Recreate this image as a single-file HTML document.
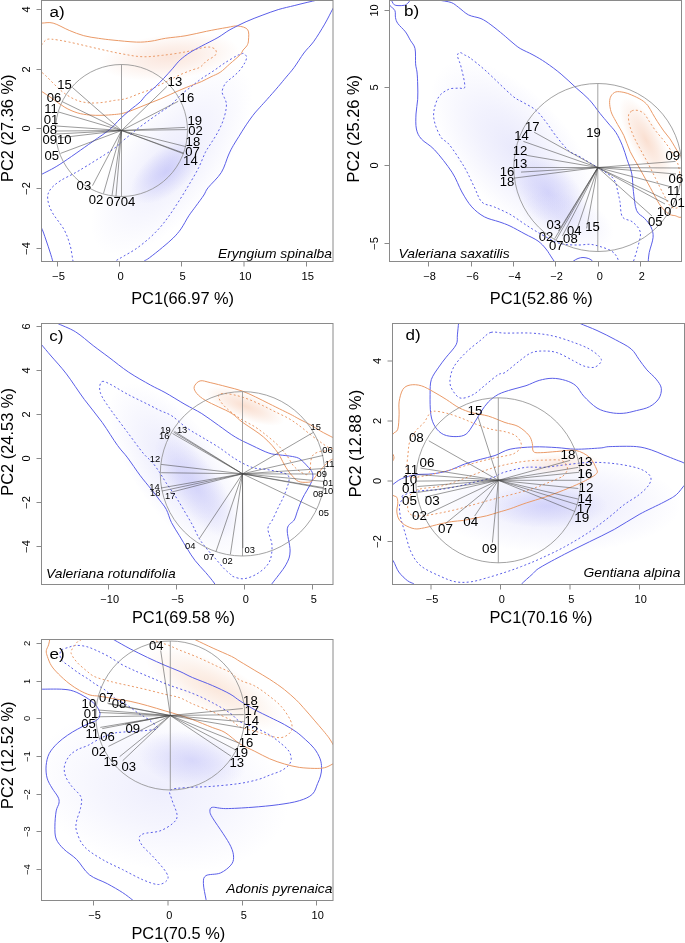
<!DOCTYPE html>
<html><head><meta charset="utf-8"><style>
html,body{margin:0;padding:0;background:#fff;}
svg{display:block;will-change:transform;font-family:"Liberation Sans",sans-serif;}
</style></head><body>
<svg width="685" height="943" viewBox="0 0 685 943">
<defs>
<clipPath id="ca"><rect x="41.5" y="0.5" width="291.5" height="261.0"/></clipPath>
<radialGradient id="g1"><stop offset="0" stop-color="#a8a8f4" stop-opacity="0.22"/><stop offset="0.45" stop-color="#a8a8f4" stop-opacity="0.132"/><stop offset="1" stop-color="#a8a8f4" stop-opacity="0"/></radialGradient>
<radialGradient id="g2"><stop offset="0" stop-color="#9a9af4" stop-opacity="0.38"/><stop offset="0.45" stop-color="#9a9af4" stop-opacity="0.228"/><stop offset="1" stop-color="#9a9af4" stop-opacity="0"/></radialGradient>
<radialGradient id="g3"><stop offset="0" stop-color="#f4c0a8" stop-opacity="0.4"/><stop offset="0.45" stop-color="#f4c0a8" stop-opacity="0.240"/><stop offset="1" stop-color="#f4c0a8" stop-opacity="0"/></radialGradient>
<clipPath id="cb"><rect x="389.5" y="0.5" width="292.0" height="261.0"/></clipPath>
<radialGradient id="g4"><stop offset="0" stop-color="#a8a8f4" stop-opacity="0.25"/><stop offset="0.45" stop-color="#a8a8f4" stop-opacity="0.150"/><stop offset="1" stop-color="#a8a8f4" stop-opacity="0"/></radialGradient>
<radialGradient id="g5"><stop offset="0" stop-color="#9a9af4" stop-opacity="0.35"/><stop offset="0.45" stop-color="#9a9af4" stop-opacity="0.210"/><stop offset="1" stop-color="#9a9af4" stop-opacity="0"/></radialGradient>
<radialGradient id="g6"><stop offset="0" stop-color="#b0b0f6" stop-opacity="0.22"/><stop offset="0.45" stop-color="#b0b0f6" stop-opacity="0.132"/><stop offset="1" stop-color="#b0b0f6" stop-opacity="0"/></radialGradient>
<radialGradient id="g7"><stop offset="0" stop-color="#f4b898" stop-opacity="0.45"/><stop offset="0.45" stop-color="#f4b898" stop-opacity="0.270"/><stop offset="1" stop-color="#f4b898" stop-opacity="0"/></radialGradient>
<clipPath id="cc"><rect x="41.5" y="323.5" width="291.5" height="261.0"/></clipPath>
<radialGradient id="g8"><stop offset="0" stop-color="#a8a8f4" stop-opacity="0.26"/><stop offset="0.45" stop-color="#a8a8f4" stop-opacity="0.156"/><stop offset="1" stop-color="#a8a8f4" stop-opacity="0"/></radialGradient>
<radialGradient id="g9"><stop offset="0" stop-color="#9a9af4" stop-opacity="0.3"/><stop offset="0.45" stop-color="#9a9af4" stop-opacity="0.180"/><stop offset="1" stop-color="#9a9af4" stop-opacity="0"/></radialGradient>
<radialGradient id="g10"><stop offset="0" stop-color="#f4b898" stop-opacity="0.45"/><stop offset="0.45" stop-color="#f4b898" stop-opacity="0.270"/><stop offset="1" stop-color="#f4b898" stop-opacity="0"/></radialGradient>
<clipPath id="cd"><rect x="392.5" y="323.5" width="292.0" height="261.0"/></clipPath>
<radialGradient id="g11"><stop offset="0" stop-color="#a8a8f4" stop-opacity="0.25"/><stop offset="0.45" stop-color="#a8a8f4" stop-opacity="0.150"/><stop offset="1" stop-color="#a8a8f4" stop-opacity="0"/></radialGradient>
<radialGradient id="g12"><stop offset="0" stop-color="#9a9af4" stop-opacity="0.3"/><stop offset="0.45" stop-color="#9a9af4" stop-opacity="0.180"/><stop offset="1" stop-color="#9a9af4" stop-opacity="0"/></radialGradient>
<radialGradient id="g13"><stop offset="0" stop-color="#f4b898" stop-opacity="0.28"/><stop offset="0.45" stop-color="#f4b898" stop-opacity="0.168"/><stop offset="1" stop-color="#f4b898" stop-opacity="0"/></radialGradient>
<clipPath id="ce"><rect x="41.5" y="639.5" width="291.5" height="261.0"/></clipPath>
<radialGradient id="g14"><stop offset="0" stop-color="#b4b4f6" stop-opacity="0.22"/><stop offset="0.45" stop-color="#b4b4f6" stop-opacity="0.132"/><stop offset="1" stop-color="#b4b4f6" stop-opacity="0"/></radialGradient>
<radialGradient id="g15"><stop offset="0" stop-color="#9a9af4" stop-opacity="0.33"/><stop offset="0.45" stop-color="#9a9af4" stop-opacity="0.198"/><stop offset="1" stop-color="#9a9af4" stop-opacity="0"/></radialGradient>
<radialGradient id="g16"><stop offset="0" stop-color="#f4c0a0" stop-opacity="0.38"/><stop offset="0.45" stop-color="#f4c0a0" stop-opacity="0.228"/><stop offset="1" stop-color="#f4c0a0" stop-opacity="0"/></radialGradient>
</defs>
<rect width="685" height="943" fill="#fff"/>
<g clip-path="url(#ca)">
<ellipse cx="172" cy="160" rx="115" ry="50" transform="rotate(-52 172 160)" fill="url(#g1)"/>
<ellipse cx="166" cy="172" rx="42" ry="22" transform="rotate(-40 166 172)" fill="url(#g2)"/>
<ellipse cx="170" cy="57" rx="70" ry="23" transform="rotate(-6 170 57)" fill="url(#g3)"/>
<path d="M30.0,23.0 C31.9,23.0 37.6,23.1 41.5,23.1 C45.4,23.1 48.5,21.9 53.1,23.1 C57.7,24.3 64.1,28.3 69.2,30.4 C74.3,32.5 78.9,34.4 83.8,35.7 C88.7,37.0 93.5,37.6 98.4,38.3 C103.3,39.0 106.7,39.5 113.0,40.1 C119.3,40.7 130.1,41.9 136.4,42.1 C142.7,42.3 146.2,41.8 151.0,41.2 C155.8,40.6 159.7,39.2 165.5,38.3 C171.3,37.4 179.2,36.9 186.0,35.7 C192.8,34.5 199.6,32.7 206.4,31.3 C213.2,29.9 221.6,28.4 226.9,27.5 C232.2,26.6 234.5,25.6 238.0,26.0 C241.5,26.4 245.9,27.3 247.7,29.7 C249.4,32.0 248.6,37.4 248.5,40.1 C248.4,42.8 247.8,44.1 246.9,45.8 C246.0,47.4 244.2,48.5 243.1,50.0 C242.0,51.5 242.4,52.4 240.2,54.7 C238.0,57.0 233.0,61.1 229.7,64.0 C226.4,66.9 223.4,70.1 220.3,72.2 C217.2,74.3 214.1,75.2 211.0,76.8 C207.9,78.3 205.0,80.0 201.7,81.5 C198.4,83.0 194.7,84.2 191.3,85.5 C187.9,86.8 184.5,88.1 181.1,89.6 C177.7,91.0 174.3,92.7 170.9,94.2 C167.5,95.7 164.1,97.3 160.7,98.8 C157.3,100.2 153.8,101.5 150.4,102.9 C147.0,104.3 143.6,105.6 140.2,107.0 C136.8,108.4 133.0,110.0 130.0,111.1 C127.0,112.2 124.6,112.9 122.0,113.5 C119.4,114.1 117.7,114.2 114.4,114.5 C111.1,114.8 106.1,115.2 102.0,115.3 C97.9,115.4 93.7,115.4 89.6,115.0 C85.5,114.6 81.3,114.1 77.2,112.8 C73.1,111.5 68.9,109.7 64.8,107.3 C60.7,104.9 56.3,101.3 52.4,98.6 C48.5,95.9 44.9,93.5 41.2,91.1 C37.5,88.7 31.9,85.2 30.0,84.0" fill="none" stroke="#ea9a68" stroke-width="1.0"/>
<path d="M36.0,52.0 C36.9,50.8 39.9,47.0 41.5,45.0 C43.1,43.0 44.1,41.1 45.8,40.1 C47.5,39.1 47.8,38.9 51.7,39.2 C55.6,39.5 61.4,40.5 69.2,42.1 C77.0,43.7 89.6,46.8 98.4,48.8 C107.2,50.8 114.5,52.5 121.8,53.8 C129.1,55.1 135.4,56.5 142.2,56.7 C149.0,57.0 155.3,56.1 162.6,55.3 C169.9,54.5 178.7,53.2 186.0,51.8 C193.3,50.4 201.5,47.5 206.4,47.1 C211.3,46.7 213.7,48.0 215.2,49.4 C216.7,50.8 216.7,53.3 215.2,55.3 C213.7,57.2 208.9,59.1 206.4,61.1 C203.9,63.1 202.5,65.7 200.0,67.2 C197.5,68.7 194.5,69.0 191.3,70.2 C188.2,71.4 184.5,72.8 181.1,74.3 C177.7,75.8 174.3,77.7 170.9,79.4 C167.5,81.1 164.1,82.8 160.7,84.5 C157.3,86.2 153.8,88.1 150.4,89.6 C147.0,91.0 143.6,91.9 140.2,93.2 C136.8,94.5 133.0,96.2 130.0,97.3 C127.0,98.3 124.6,99.0 122.0,99.5 C119.4,100.0 117.7,99.9 114.4,100.4 C111.1,100.9 106.1,102.1 102.0,102.5 C97.9,102.9 93.7,103.2 89.6,102.9 C85.5,102.6 81.3,102.0 77.2,100.4 C73.1,98.9 68.5,96.2 64.8,93.6 C61.1,91.0 58.2,88.0 54.9,84.9 C51.6,81.8 48.1,77.8 45.0,75.0 C41.9,72.2 37.5,69.2 36.0,68.0" fill="none" stroke="#ea9a68" stroke-width="1.0" stroke-dasharray="2 2.3"/>
<path d="M30.0,181.0 C31.8,179.9 36.0,177.5 41.0,174.7 C46.0,171.9 51.4,169.8 59.9,164.3 C68.4,158.9 83.8,147.8 92.1,142.0 C100.4,136.2 104.8,133.4 109.5,129.6 C114.2,125.8 116.6,122.2 120.0,119.0 C123.4,115.8 126.6,112.9 130.0,110.1 C133.4,107.2 137.5,104.5 140.2,101.9 C142.9,99.3 143.8,97.2 146.4,94.7 C149.0,92.2 152.6,89.3 155.5,86.6 C158.4,83.9 160.8,81.5 163.7,78.4 C166.6,75.3 170.2,71.3 172.9,68.2 C175.6,65.1 177.2,62.6 180.1,60.0 C182.9,57.4 186.4,54.8 190.0,52.5 C193.6,50.2 197.0,48.5 201.7,46.0 C206.4,43.5 213.3,40.2 218.0,37.5 C222.7,34.8 225.3,32.3 230.0,29.7 C234.7,27.1 240.8,24.1 246.1,21.7 C251.4,19.3 256.8,17.3 262.1,15.3 C267.5,13.3 272.9,11.2 278.2,9.6 C283.5,8.0 289.4,6.8 294.2,5.6 C299.0,4.4 303.2,3.3 307.1,2.4 C311.0,1.5 314.5,0.7 317.5,0.0 C320.5,-0.7 323.8,-1.7 325.0,-2.0" fill="none" stroke="#5a5ee8" stroke-width="1.0"/>
<path d="M338.0,0.0 C337.1,1.5 335.0,4.8 332.8,8.8 C330.6,12.8 327.9,18.6 324.7,24.1 C321.5,29.6 317.0,37.0 313.5,41.8 C310.0,46.6 307.1,48.7 303.9,53.0 C300.7,57.3 297.1,63.4 294.2,67.4 C291.2,71.4 288.9,73.9 286.2,77.1 C283.5,80.3 281.4,83.0 278.2,86.7 C275.0,90.5 269.9,96.2 266.9,99.6 C263.9,103.0 262.3,104.6 260.0,107.2 C257.7,109.8 255.5,112.0 253.0,115.3 C250.5,118.6 247.1,123.5 244.8,127.0 C242.5,130.5 240.9,133.2 239.0,136.3 C237.1,139.4 234.9,142.6 233.2,145.7 C231.4,148.8 230.5,150.5 228.5,155.0 C226.5,159.5 224.7,167.0 221.3,172.5 C217.9,178.0 210.9,184.1 208.0,187.8 C205.1,191.6 205.9,191.9 203.9,195.0 C201.9,198.1 198.3,202.7 195.8,206.2 C193.3,209.7 191.3,212.0 188.8,215.8 C186.3,219.6 183.6,225.2 181.0,228.9 C178.4,232.6 176.2,235.0 173.1,238.1 C170.0,241.2 166.5,244.0 162.6,247.3 C158.7,250.6 152.5,255.5 149.4,257.8 C146.3,260.1 146.1,259.7 144.2,261.1 C142.3,262.5 139.0,265.2 138.0,266.0" fill="none" stroke="#5a5ee8" stroke-width="1.0"/>
<path d="M35.0,222.0 C36.0,222.8 39.2,224.0 41.0,227.0 C42.8,230.0 44.5,235.8 46.0,240.0 C47.5,244.2 48.8,248.3 50.0,252.0 C51.2,255.7 52.2,259.3 53.0,262.0 C53.8,264.7 54.7,267.0 55.0,268.0" fill="none" stroke="#5a5ee8" stroke-width="1.0"/>
<path d="M75.0,270.0 C74.6,268.3 73.6,264.2 72.8,260.0 C72.0,255.8 71.5,250.1 70.0,245.0 C68.5,239.9 67.0,235.0 64.0,229.5 C61.0,224.0 54.7,217.1 52.0,212.0 C49.3,206.9 48.0,202.5 47.7,198.8 C47.4,195.1 48.0,193.0 50.0,190.0 C52.0,187.0 55.1,184.3 60.0,181.0 C64.9,177.7 70.7,175.6 79.4,170.4 C88.1,165.2 104.7,154.9 112.3,149.7 C119.9,144.5 120.8,142.4 125.0,139.0 C129.2,135.6 133.0,132.3 137.2,129.0 C141.4,125.7 146.5,122.1 150.4,119.3 C154.3,116.5 157.3,114.5 160.7,112.1 C164.1,109.7 167.5,107.9 170.9,105.0 C174.3,102.1 177.7,97.8 181.1,94.7 C184.5,91.6 187.9,89.3 191.3,86.6 C194.7,83.9 198.0,81.1 201.7,78.5 C205.4,75.9 209.4,73.6 213.3,71.0 C217.2,68.4 221.1,65.3 225.0,62.8 C228.9,60.3 234.0,57.2 236.7,55.8 C239.4,54.3 240.1,54.5 241.3,54.1 C242.5,53.7 242.8,53.0 243.7,53.5 C244.6,54.0 246.4,55.5 246.6,57.0 C246.8,58.5 245.9,60.7 244.8,62.8 C243.7,64.9 241.9,67.6 240.2,69.8 C238.4,72.0 236.2,74.0 234.3,75.7 C232.4,77.5 230.2,78.8 228.5,80.3 C226.8,81.8 225.5,83.0 224.4,85.0 C223.3,87.0 222.1,89.9 222.1,92.0 C222.1,94.1 223.7,96.0 224.4,97.8 C225.1,99.5 225.9,100.8 226.2,102.5 C226.5,104.2 226.5,106.0 226.2,108.3 C225.9,110.6 225.2,113.8 224.4,116.5 C223.6,119.2 222.8,121.8 221.5,124.7 C220.2,127.6 218.6,130.9 216.8,134.0 C215.1,137.1 212.9,140.2 211.0,143.3 C209.1,146.4 207.2,148.7 205.2,152.7 C203.2,156.7 201.4,162.2 198.8,167.4 C196.2,172.6 192.8,178.3 189.6,183.7 C186.4,189.1 183.0,194.7 179.6,200.0 C176.2,205.3 172.4,211.2 169.1,215.8 C165.8,220.4 163.2,223.9 159.9,227.6 C156.6,231.3 153.3,234.6 149.4,238.1 C145.5,241.6 140.7,245.5 136.3,248.6 C131.9,251.7 126.6,254.4 123.1,256.5 C119.6,258.6 117.8,259.5 115.3,261.1 C112.8,262.7 109.2,265.2 108.0,266.0" fill="none" stroke="#5a5ee8" stroke-width="1.0" stroke-dasharray="2 2.3"/>
</g>
<circle cx="121.5" cy="130.5" r="66" fill="none" stroke="#8c8c8c" stroke-width="0.8"/>
<line x1="121.5" y1="64.5" x2="121.5" y2="196.5" stroke="#8c8c8c" stroke-width="0.8"/>
<line x1="121.5" y1="130.5" x2="72.3" y2="87.4" stroke="#484848" stroke-width="0.55"/>
<line x1="121.5" y1="130.5" x2="62.3" y2="101.7" stroke="#484848" stroke-width="0.55"/>
<line x1="121.5" y1="130.5" x2="58.6" y2="112" stroke="#484848" stroke-width="0.55"/>
<line x1="121.5" y1="130.5" x2="56.5" y2="126" stroke="#484848" stroke-width="0.55"/>
<line x1="121.5" y1="130.5" x2="56" y2="131" stroke="#484848" stroke-width="0.55"/>
<line x1="121.5" y1="130.5" x2="56.5" y2="134" stroke="#484848" stroke-width="0.55"/>
<line x1="121.5" y1="130.5" x2="58" y2="138" stroke="#484848" stroke-width="0.55"/>
<line x1="121.5" y1="130.5" x2="60.5" y2="153.4" stroke="#484848" stroke-width="0.55"/>
<line x1="121.5" y1="130.5" x2="92.5" y2="185.7" stroke="#484848" stroke-width="0.55"/>
<line x1="121.5" y1="130.5" x2="103.5" y2="193.4" stroke="#484848" stroke-width="0.55"/>
<line x1="121.5" y1="130.5" x2="112" y2="195.5" stroke="#484848" stroke-width="0.55"/>
<line x1="121.5" y1="130.5" x2="116" y2="196" stroke="#484848" stroke-width="0.55"/>
<line x1="121.5" y1="130.5" x2="167" y2="86.4" stroke="#484848" stroke-width="0.55"/>
<line x1="121.5" y1="130.5" x2="178.2" y2="101.3" stroke="#484848" stroke-width="0.55"/>
<line x1="121.5" y1="130.5" x2="185.1" y2="127.4" stroke="#484848" stroke-width="0.55"/>
<line x1="121.5" y1="130.5" x2="187" y2="129.6" stroke="#484848" stroke-width="0.55"/>
<line x1="121.5" y1="130.5" x2="185.8" y2="146.6" stroke="#484848" stroke-width="0.55"/>
<line x1="121.5" y1="130.5" x2="183.9" y2="153.2" stroke="#484848" stroke-width="0.55"/>
<line x1="121.5" y1="130.5" x2="183.3" y2="153.7" stroke="#484848" stroke-width="0.55"/>
<rect x="41.5" y="0.5" width="291.5" height="261.0" fill="none" stroke="#8a8a8a" stroke-width="1"/>
<line x1="57.5" y1="261.5" x2="57.5" y2="266.5" stroke="#8a8a8a" stroke-width="1"/>
<text transform="translate(58.7 280) scale(1.1 1)" font-size="10.2" text-anchor="middle" fill="#000">−5</text>
<line x1="119.5" y1="261.5" x2="119.5" y2="266.5" stroke="#8a8a8a" stroke-width="1"/>
<text transform="translate(120.7 280) scale(1.1 1)" font-size="10.2" text-anchor="middle" fill="#000">0</text>
<line x1="181.5" y1="261.5" x2="181.5" y2="266.5" stroke="#8a8a8a" stroke-width="1"/>
<text transform="translate(182.7 280) scale(1.1 1)" font-size="10.2" text-anchor="middle" fill="#000">5</text>
<line x1="244" y1="261.5" x2="244" y2="266.5" stroke="#8a8a8a" stroke-width="1"/>
<text transform="translate(245.2 280) scale(1.1 1)" font-size="10.2" text-anchor="middle" fill="#000">10</text>
<line x1="306.5" y1="261.5" x2="306.5" y2="266.5" stroke="#8a8a8a" stroke-width="1"/>
<text transform="translate(307.7 280) scale(1.1 1)" font-size="10.2" text-anchor="middle" fill="#000">15</text>
<line x1="36.5" y1="248.5" x2="41.5" y2="248.5" stroke="#8a8a8a" stroke-width="1"/>
<text transform="translate(29.8 248.5) rotate(-90) scale(1.1 1)" font-size="10" text-anchor="middle" fill="#000">−4</text>
<line x1="36.5" y1="188.5" x2="41.5" y2="188.5" stroke="#8a8a8a" stroke-width="1"/>
<text transform="translate(29.8 188.5) rotate(-90) scale(1.1 1)" font-size="10" text-anchor="middle" fill="#000">−2</text>
<line x1="36.5" y1="128.5" x2="41.5" y2="128.5" stroke="#8a8a8a" stroke-width="1"/>
<text transform="translate(29.8 128.5) rotate(-90) scale(1.1 1)" font-size="10" text-anchor="middle" fill="#000">0</text>
<line x1="36.5" y1="69.5" x2="41.5" y2="69.5" stroke="#8a8a8a" stroke-width="1"/>
<text transform="translate(29.8 69.5) rotate(-90) scale(1.1 1)" font-size="10" text-anchor="middle" fill="#000">2</text>
<line x1="36.5" y1="9.5" x2="41.5" y2="9.5" stroke="#8a8a8a" stroke-width="1"/>
<text transform="translate(29.8 9.5) rotate(-90) scale(1.1 1)" font-size="10" text-anchor="middle" fill="#000">4</text>
<text transform="translate(49.5 16.8) scale(1.1 1)" font-size="15.5" text-anchor="start" fill="#000">a)</text>
<text transform="translate(331.9 258) scale(1.1 1)" font-size="12.6" text-anchor="end" font-style="italic" fill="#000">Eryngium spinalba</text>
<text transform="translate(182.6 303.7) scale(1.0 1)" font-size="16.4" text-anchor="middle" fill="#000">PC1(66.97 %)</text>
<text transform="translate(12.9 128.3) rotate(-90) scale(1.0 1)" font-size="16.4" text-anchor="middle" fill="#000">PC2 (27.36 %)</text>
<text transform="translate(57.2 88.8) scale(1.05 1)" font-size="12.48" text-anchor="start" fill="#000">15</text>
<text transform="translate(46.8 101.6) scale(1.05 1)" font-size="12.48" text-anchor="start" fill="#000">06</text>
<text transform="translate(44.2 113.1) scale(1.05 1)" font-size="12.48" text-anchor="start" fill="#000">11</text>
<text transform="translate(43.7 123.9) scale(1.05 1)" font-size="12.48" text-anchor="start" fill="#000">01</text>
<text transform="translate(42.5 133.6) scale(1.05 1)" font-size="12.48" text-anchor="start" fill="#000">08</text>
<text transform="translate(42.5 144.2) scale(1.05 1)" font-size="12.48" text-anchor="start" fill="#000">0910</text>
<text transform="translate(44.4 159.7) scale(1.05 1)" font-size="12.48" text-anchor="start" fill="#000">05</text>
<text transform="translate(76.6 190.3) scale(1.05 1)" font-size="12.48" text-anchor="start" fill="#000">03</text>
<text transform="translate(88.7 203.5) scale(1.05 1)" font-size="12.48" text-anchor="start" fill="#000">02</text>
<text transform="translate(106.2 205.7) scale(1.05 1)" font-size="12.48" text-anchor="start" fill="#000">0704</text>
<text transform="translate(167.6 85.7) scale(1.05 1)" font-size="12.48" text-anchor="start" fill="#000">13</text>
<text transform="translate(179.6 102.0) scale(1.05 1)" font-size="12.48" text-anchor="start" fill="#000">16</text>
<text transform="translate(187.5 125.2) scale(1.05 1)" font-size="12.48" text-anchor="start" fill="#000">19</text>
<text transform="translate(188.3 135.1) scale(1.05 1)" font-size="12.48" text-anchor="start" fill="#000">02</text>
<text transform="translate(185.6 146.3) scale(1.05 1)" font-size="12.48" text-anchor="start" fill="#000">18</text>
<text transform="translate(185.2 156.2) scale(1.05 1)" font-size="12.48" text-anchor="start" fill="#000">07</text>
<text transform="translate(183.1 164.9) scale(1.05 1)" font-size="12.48" text-anchor="start" fill="#000">14</text>
<g clip-path="url(#cb)">
<ellipse cx="515" cy="150" rx="110" ry="55" transform="rotate(48 515 150)" fill="url(#g4)"/>
<ellipse cx="548" cy="192" rx="45" ry="28" transform="rotate(40 548 192)" fill="url(#g5)"/>
<ellipse cx="566" cy="220" rx="50" ry="26" transform="rotate(20 566 220)" fill="url(#g6)"/>
<ellipse cx="646" cy="140" rx="48" ry="16" transform="rotate(62 646 140)" fill="url(#g7)"/>
<path d="M391.0,-1.0 C391.2,-0.5 391.8,1.0 392.3,2.0 C392.9,3.0 393.4,4.2 394.3,4.8 C395.2,5.4 396.3,5.5 398.0,5.6 C399.7,5.7 402.7,5.7 404.4,5.3 C406.1,4.9 407.0,3.9 408.0,3.0 C409.0,2.1 409.8,0.7 410.3,0.0 C410.8,-0.7 410.9,-0.8 411.0,-1.0" fill="none" stroke="#5a5ee8" stroke-width="1.0"/>
<path d="M388.0,3.0 C388.4,3.5 389.1,4.6 390.2,5.9 C391.3,7.2 394.0,8.6 394.9,10.6 C395.8,12.6 395.0,15.5 395.5,17.7 C396.0,19.9 396.2,21.2 397.9,23.6 C399.6,26.0 403.4,29.1 405.5,31.9 C407.6,34.7 408.7,37.4 410.3,40.2 C411.9,43.0 414.1,44.6 415.0,48.5 C415.9,52.4 415.3,59.9 415.6,63.8 C415.9,67.7 416.6,68.5 417.0,72.0 C417.4,75.5 417.6,80.5 417.7,85.0 C417.8,89.5 418.0,94.5 417.7,99.3 C417.4,104.1 416.2,109.0 416.0,114.0 C415.8,119.0 415.5,124.8 416.4,129.0 C417.3,133.2 418.4,135.5 421.4,139.0 C424.4,142.5 429.5,144.4 434.6,149.9 C439.7,155.4 447.4,165.2 452.0,172.2 C456.6,179.2 458.6,186.2 461.9,192.0 C465.2,197.8 468.1,202.8 471.8,206.9 C475.5,211.0 479.8,214.3 484.3,216.8 C488.9,219.3 494.8,220.3 499.1,221.8 C503.4,223.3 505.7,224.0 510.0,226.0 C514.3,228.0 520.3,231.5 525.0,234.0 C529.7,236.5 534.5,238.5 538.0,241.0 C541.5,243.5 543.7,246.2 546.0,249.0 C548.3,251.8 550.3,255.5 552.0,258.0 C553.7,260.5 555.3,263.0 556.0,264.0" fill="none" stroke="#5a5ee8" stroke-width="1.0"/>
<path d="M436.0,-2.0 C436.5,-1.7 436.3,-0.8 438.8,0.0 C441.3,0.8 447.9,1.3 451.2,2.5 C454.5,3.7 455.7,5.3 458.6,7.4 C461.5,9.5 464.8,13.0 468.5,14.9 C472.2,16.8 477.3,17.0 481.0,18.6 C484.7,20.2 487.2,22.1 490.9,24.8 C494.6,27.5 499.8,31.8 503.3,34.7 C506.8,37.6 509.2,39.9 512.0,42.2 C514.8,44.5 516.7,46.4 520.2,48.5 C523.7,50.6 528.7,52.5 533.0,54.9 C537.3,57.2 541.1,59.4 545.8,62.6 C550.5,65.8 556.0,69.8 561.1,74.1 C566.2,78.3 571.7,83.8 576.4,88.1 C581.1,92.3 585.3,95.4 589.2,99.6 C593.1,103.8 596.9,109.5 600.0,113.4 C603.1,117.3 605.4,119.8 608.0,123.0 C610.6,126.2 613.5,128.8 615.9,132.5 C618.3,136.2 620.4,140.8 622.3,145.3 C624.2,149.8 625.5,154.8 627.1,159.6 C628.7,164.4 630.8,168.6 631.8,173.9 C632.8,179.2 632.6,185.3 633.4,191.4 C634.2,197.5 634.7,206.0 636.6,210.5 C638.5,215.0 642.2,215.7 644.6,218.4 C647.0,221.2 649.6,223.8 651.0,227.0 C652.4,230.2 653.4,233.0 653.1,237.3 C652.8,241.6 650.1,248.2 649.2,252.6 C648.4,257.1 648.2,262.1 648.0,264.0" fill="none" stroke="#5a5ee8" stroke-width="1.0"/>
<path d="M571.0,264.0 C571.4,263.5 572.3,261.9 573.5,261.0 C574.7,260.1 576.4,259.1 578.0,258.5 C579.6,257.9 581.2,257.5 583.0,257.5 C584.8,257.5 587.2,258.0 588.8,258.6 C590.4,259.2 591.6,260.1 592.5,261.0 C593.4,261.9 593.8,263.5 594.0,264.0" fill="none" stroke="#5a5ee8" stroke-width="1.0"/>
<path d="M619.0,264.0 C618.7,262.8 618.3,259.2 617.0,257.0 C615.7,254.8 614.2,252.8 611.4,251.0 C608.6,249.2 603.6,247.6 600.0,246.5 C596.4,245.4 593.5,244.6 590.0,244.3 C586.5,244.1 583.0,245.0 579.0,245.0 C575.0,245.0 569.8,245.0 566.0,244.5 C562.2,244.0 560.2,243.8 556.0,242.0 C551.8,240.2 545.8,236.9 540.7,234.0 C535.6,231.1 530.4,227.8 525.3,224.5 C520.2,221.2 515.2,217.2 510.0,214.3 C504.8,211.4 498.9,209.0 494.2,206.9 C489.5,204.8 485.1,205.3 481.8,202.0 C478.5,198.7 477.2,192.9 474.3,187.1 C471.4,181.3 468.5,174.2 464.4,167.2 C460.3,160.2 453.4,149.8 449.5,144.9 C445.6,140.0 443.7,141.2 441.3,137.7 C438.9,134.2 436.4,128.4 435.1,124.1 C433.9,119.8 433.2,116.2 433.8,111.7 C434.4,107.2 436.3,100.5 438.8,96.8 C441.3,93.1 445.4,90.8 448.7,89.3 C452.0,87.8 455.9,88.5 458.6,88.1 C461.3,87.7 464.4,90.3 464.8,86.8 C465.2,83.3 462.3,72.1 461.1,67.0 C459.9,61.9 457.7,58.4 457.5,56.0 C457.3,53.6 458.7,52.8 459.9,52.6 C461.1,52.4 463.0,54.1 464.7,55.0 C466.4,55.9 466.4,55.2 470.0,57.9 C473.6,60.6 479.0,64.7 486.0,71.0 C493.0,77.3 505.9,90.3 512.0,95.5 C518.1,100.7 518.9,99.8 522.8,102.2 C526.7,104.6 531.6,106.6 535.5,109.9 C539.4,113.2 542.6,117.7 546.0,122.0 C549.4,126.3 552.2,131.2 556.0,136.0 C559.8,140.8 564.8,147.2 568.6,150.6 C572.4,153.9 575.6,154.3 578.8,156.1 C581.9,157.9 584.6,159.7 587.5,161.4 C590.4,163.2 593.4,164.8 596.3,166.6 C599.2,168.3 602.4,170.2 605.0,171.9 C607.6,173.7 610.2,175.3 612.0,177.1 C613.8,178.8 614.6,180.4 615.5,182.4 C616.4,184.4 616.5,185.8 617.2,189.0 C617.9,192.2 619.0,196.8 619.9,201.5 C620.8,206.2 620.3,213.5 622.4,216.9 C624.5,220.3 629.6,219.4 632.6,222.0 C635.6,224.6 639.4,227.9 640.3,232.2 C641.1,236.4 639.0,242.2 637.7,247.5 C636.4,252.8 633.5,261.2 632.6,264.0" fill="none" stroke="#5a5ee8" stroke-width="1.0" stroke-dasharray="2 2.3"/>
<path d="M615.9,91.9 C618.0,91.3 621.2,91.9 623.9,92.4 C626.5,92.9 628.9,93.8 631.8,95.1 C634.7,96.3 638.7,98.2 641.4,99.9 C644.1,101.6 645.9,103.2 647.8,105.5 C649.6,107.8 650.9,110.8 652.5,113.4 C654.1,116.1 655.4,118.5 657.3,121.4 C659.2,124.3 661.6,128.0 663.7,130.9 C665.8,133.8 668.1,136.2 670.0,138.9 C671.9,141.6 673.2,144.2 674.8,146.8 C676.4,149.5 678.2,152.6 679.6,154.8 C681.0,157.0 681.3,154.1 683.0,160.0 C684.7,165.9 690.0,180.8 690.0,190.0 C690.0,199.2 685.5,211.0 683.0,215.3 C680.5,219.6 677.2,215.9 674.8,215.6 C672.4,215.3 670.8,215.3 668.4,213.7 C666.0,212.0 662.9,208.9 660.5,205.7 C658.1,202.5 656.5,198.8 654.1,194.6 C651.7,190.3 648.9,185.0 646.2,180.2 C643.6,175.4 640.9,170.7 638.2,165.9 C635.5,161.1 632.6,156.6 630.2,151.6 C627.8,146.6 626.3,140.7 623.9,135.7 C621.5,130.7 618.0,125.4 615.9,121.4 C613.8,117.4 612.1,115.0 611.1,111.8 C610.1,108.6 609.6,104.9 609.6,102.3 C609.6,99.7 610.1,97.6 611.1,95.9 C612.1,94.2 613.8,92.5 615.9,91.9 Z" fill="none" stroke="#ea9a68" stroke-width="1.0"/>
<path d="M631.8,111.0 C632.9,110.2 633.7,110.2 635.0,110.2 C636.3,110.2 638.2,110.3 639.8,111.0 C641.4,111.7 643.0,112.5 644.6,114.2 C646.2,115.9 647.4,118.6 649.3,121.4 C651.1,124.2 653.3,127.7 655.7,130.9 C658.1,134.1 661.1,137.1 663.7,140.5 C666.4,143.9 669.2,147.6 671.6,151.6 C674.0,155.6 676.5,159.8 678.0,164.3 C679.5,168.8 679.8,174.2 680.4,178.7 C681.0,183.2 681.4,187.3 681.8,191.4 C682.1,195.5 683.4,200.2 682.5,203.0 C681.6,205.8 678.5,207.7 676.4,208.1 C674.3,208.5 672.1,207.9 670.0,205.7 C667.9,203.4 666.1,199.1 663.7,194.6 C661.3,190.1 658.4,184.0 655.7,178.7 C653.1,173.4 650.4,167.9 647.8,162.8 C645.1,157.8 642.2,152.9 639.8,148.4 C637.4,143.9 635.1,139.7 633.4,135.7 C631.7,131.7 630.2,128.0 629.4,124.6 C628.6,121.1 628.2,117.3 628.6,115.0 C629.0,112.7 630.7,111.8 631.8,111.0 Z" fill="none" stroke="#ea9a68" stroke-width="1.0" stroke-dasharray="2 2.3"/>
<circle cx="597.8" cy="167.5" r="84" fill="none" stroke="#8c8c8c" stroke-width="0.8"/>
<line x1="597.8" y1="83.5" x2="597.8" y2="251.5" stroke="#8c8c8c" stroke-width="0.8"/>
<line x1="597.8" y1="167.5" x2="534.1" y2="132.2" stroke="#484848" stroke-width="0.55"/>
<line x1="597.8" y1="167.5" x2="523.4" y2="141.4" stroke="#484848" stroke-width="0.55"/>
<line x1="597.8" y1="167.5" x2="525.7" y2="155.2" stroke="#484848" stroke-width="0.55"/>
<line x1="597.8" y1="167.5" x2="521.8" y2="167.5" stroke="#484848" stroke-width="0.55"/>
<line x1="597.8" y1="167.5" x2="521" y2="172.1" stroke="#484848" stroke-width="0.55"/>
<line x1="597.8" y1="167.5" x2="513.4" y2="178.2" stroke="#484848" stroke-width="0.55"/>
<line x1="597.8" y1="167.5" x2="597.6" y2="138.4" stroke="#484848" stroke-width="0.55"/>
<line x1="597.8" y1="167.5" x2="675.6" y2="161.4" stroke="#484848" stroke-width="0.55"/>
<line x1="597.8" y1="167.5" x2="681" y2="168" stroke="#484848" stroke-width="0.55"/>
<line x1="597.8" y1="167.5" x2="676" y2="174" stroke="#484848" stroke-width="0.55"/>
<line x1="597.8" y1="167.5" x2="670" y2="186.6" stroke="#484848" stroke-width="0.55"/>
<line x1="597.8" y1="167.5" x2="668.4" y2="201" stroke="#484848" stroke-width="0.55"/>
<line x1="597.8" y1="167.5" x2="665" y2="204" stroke="#484848" stroke-width="0.55"/>
<line x1="597.8" y1="167.5" x2="652" y2="216" stroke="#484848" stroke-width="0.55"/>
<line x1="597.8" y1="167.5" x2="558.5" y2="231" stroke="#484848" stroke-width="0.55"/>
<line x1="597.8" y1="167.5" x2="554.7" y2="238.6" stroke="#484848" stroke-width="0.55"/>
<line x1="597.8" y1="167.5" x2="556" y2="240" stroke="#484848" stroke-width="0.55"/>
<line x1="597.8" y1="167.5" x2="562.4" y2="236" stroke="#484848" stroke-width="0.55"/>
<line x1="597.8" y1="167.5" x2="576.4" y2="231" stroke="#484848" stroke-width="0.55"/>
<line x1="597.8" y1="167.5" x2="586.6" y2="228.4" stroke="#484848" stroke-width="0.55"/>
</g>
<rect x="389.5" y="0.5" width="292.0" height="261.0" fill="none" stroke="#8a8a8a" stroke-width="1"/>
<line x1="428.5" y1="261.5" x2="428.5" y2="266.5" stroke="#8a8a8a" stroke-width="1"/>
<text transform="translate(429.7 280) scale(1.1 1)" font-size="10" text-anchor="middle" fill="#000">−8</text>
<line x1="471.5" y1="261.5" x2="471.5" y2="266.5" stroke="#8a8a8a" stroke-width="1"/>
<text transform="translate(472.7 280) scale(1.1 1)" font-size="10" text-anchor="middle" fill="#000">−6</text>
<line x1="513.5" y1="261.5" x2="513.5" y2="266.5" stroke="#8a8a8a" stroke-width="1"/>
<text transform="translate(514.7 280) scale(1.1 1)" font-size="10" text-anchor="middle" fill="#000">−4</text>
<line x1="555.5" y1="261.5" x2="555.5" y2="266.5" stroke="#8a8a8a" stroke-width="1"/>
<text transform="translate(556.7 280) scale(1.1 1)" font-size="10" text-anchor="middle" fill="#000">−2</text>
<line x1="598.5" y1="261.5" x2="598.5" y2="266.5" stroke="#8a8a8a" stroke-width="1"/>
<text transform="translate(599.7 280) scale(1.1 1)" font-size="10" text-anchor="middle" fill="#000">0</text>
<line x1="640.5" y1="261.5" x2="640.5" y2="266.5" stroke="#8a8a8a" stroke-width="1"/>
<text transform="translate(641.7 280) scale(1.1 1)" font-size="10" text-anchor="middle" fill="#000">2</text>
<line x1="384.5" y1="243.5" x2="389.5" y2="243.5" stroke="#8a8a8a" stroke-width="1"/>
<text transform="translate(377.8 243.5) rotate(-90) scale(1.1 1)" font-size="10" text-anchor="middle" fill="#000">−5</text>
<line x1="384.5" y1="165.5" x2="389.5" y2="165.5" stroke="#8a8a8a" stroke-width="1"/>
<text transform="translate(377.8 165.5) rotate(-90) scale(1.1 1)" font-size="10" text-anchor="middle" fill="#000">0</text>
<line x1="384.5" y1="87.5" x2="389.5" y2="87.5" stroke="#8a8a8a" stroke-width="1"/>
<text transform="translate(377.8 87.5) rotate(-90) scale(1.1 1)" font-size="10" text-anchor="middle" fill="#000">5</text>
<line x1="384.5" y1="10.5" x2="389.5" y2="10.5" stroke="#8a8a8a" stroke-width="1"/>
<text transform="translate(377.8 10.5) rotate(-90) scale(1.1 1)" font-size="10" text-anchor="middle" fill="#000">10</text>
<text transform="translate(404 15.7) scale(1.1 1)" font-size="15.5" text-anchor="start" fill="#000">b)</text>
<text transform="translate(398.5 258) scale(1.1 1)" font-size="12.6" text-anchor="start" font-style="italic" fill="#000">Valeriana saxatilis</text>
<text transform="translate(541.2 303.7) scale(1.0 1)" font-size="16.4" text-anchor="middle" fill="#000">PC1(52.86 %)</text>
<text transform="translate(358.9 128.7) rotate(-90) scale(1.0 1)" font-size="16.4" text-anchor="middle" fill="#000">PC2 (25.26 %)</text>
<text transform="translate(525.0 131.0) scale(1.05 1)" font-size="12.48" text-anchor="start" fill="#000">17</text>
<text transform="translate(514.3 140.2) scale(1.05 1)" font-size="12.48" text-anchor="start" fill="#000">14</text>
<text transform="translate(512.8 154.8) scale(1.05 1)" font-size="12.48" text-anchor="start" fill="#000">12</text>
<text transform="translate(512.8 168.2) scale(1.05 1)" font-size="12.48" text-anchor="start" fill="#000">13</text>
<text transform="translate(499.7 176.2) scale(1.05 1)" font-size="12.48" text-anchor="start" fill="#000">16</text>
<text transform="translate(499.7 186.2) scale(1.05 1)" font-size="12.48" text-anchor="start" fill="#000">18</text>
<text transform="translate(586.3 137.1) scale(1.05 1)" font-size="12.48" text-anchor="start" fill="#000">19</text>
<text transform="translate(665.5 159.9) scale(1.05 1)" font-size="12.48" text-anchor="start" fill="#000">09</text>
<text transform="translate(668.6 182.9) scale(1.05 1)" font-size="12.48" text-anchor="start" fill="#000">06</text>
<text transform="translate(667.0 194.9) scale(1.05 1)" font-size="12.48" text-anchor="start" fill="#000">11</text>
<text transform="translate(670.2 206.8) scale(1.05 1)" font-size="12.48" text-anchor="start" fill="#000">01</text>
<text transform="translate(656.7 215.6) scale(1.05 1)" font-size="12.48" text-anchor="start" fill="#000">10</text>
<text transform="translate(648.0 225.9) scale(1.05 1)" font-size="12.48" text-anchor="start" fill="#000">05</text>
<text transform="translate(585.2 230.7) scale(1.05 1)" font-size="12.48" text-anchor="start" fill="#000">15</text>
<text transform="translate(566.9 235.1) scale(1.05 1)" font-size="12.48" text-anchor="start" fill="#000">04</text>
<text transform="translate(546.4 228.7) scale(1.05 1)" font-size="12.48" text-anchor="start" fill="#000">03</text>
<text transform="translate(538.8 240.7) scale(1.05 1)" font-size="12.48" text-anchor="start" fill="#000">02</text>
<text transform="translate(563.1 242.7) scale(1.05 1)" font-size="12.48" text-anchor="start" fill="#000">08</text>
<text transform="translate(549.0 250.4) scale(1.05 1)" font-size="12.48" text-anchor="start" fill="#000">07</text>
<g clip-path="url(#cc)">
<ellipse cx="180" cy="472" rx="105" ry="44" transform="rotate(54 180 472)" fill="url(#g8)"/>
<ellipse cx="196" cy="486" rx="62" ry="24" transform="rotate(54 196 486)" fill="url(#g9)"/>
<ellipse cx="245" cy="406" rx="42" ry="13" transform="rotate(22 245 406)" fill="url(#g10)"/>
<path d="M50.0,318.0 C51.1,318.8 52.5,320.7 56.8,323.0 C61.0,325.3 69.4,328.0 75.5,331.8 C81.6,335.6 87.6,341.3 93.2,345.6 C98.8,349.9 103.1,353.0 109.0,357.4 C114.9,361.8 121.8,367.6 128.7,372.2 C135.6,376.8 144.3,381.6 150.4,385.0 C156.5,388.4 159.2,389.3 165.0,392.5 C170.8,395.7 178.9,400.9 185.0,404.4 C191.1,407.9 196.2,410.1 201.8,413.6 C207.4,417.1 213.0,421.5 218.6,425.4 C224.2,429.3 229.8,433.8 235.4,437.1 C241.0,440.5 246.5,442.8 252.1,445.5 C257.7,448.2 264.4,451.6 268.9,453.1 C273.4,454.7 275.1,454.2 279.0,454.8 C282.9,455.4 288.9,455.8 292.4,456.5 C295.9,457.2 297.6,457.4 300.0,459.0 C302.4,460.6 305.1,463.7 307.1,465.9 C309.1,468.1 311.2,470.0 312.1,472.1 C313.0,474.2 313.1,476.0 312.7,478.3 C312.3,480.6 311.0,483.1 309.6,485.8 C308.2,488.5 306.1,491.7 304.6,494.4 C303.2,497.1 302.1,499.0 300.9,501.9 C299.7,504.8 298.3,508.8 297.2,511.8 C296.1,514.8 295.8,517.2 294.2,520.0 C292.6,522.8 288.0,523.6 287.3,528.8 C286.6,534.0 290.3,545.0 290.1,551.0 C289.9,557.0 288.9,559.3 285.9,564.8 C282.9,570.2 275.0,579.5 272.0,583.7 C269.0,587.9 268.7,589.0 268.0,590.0" fill="none" stroke="#5a5ee8" stroke-width="1.0"/>
<path d="M36.0,338.0 C36.9,339.1 38.9,341.5 41.4,344.5 C43.9,347.5 46.9,351.1 51.1,356.0 C55.3,360.9 60.9,366.7 66.4,373.9 C71.9,381.1 78.3,391.3 84.3,399.4 C90.3,407.5 96.7,414.7 102.2,422.4 C107.7,430.1 113.2,439.5 117.5,445.4 C121.8,451.3 124.0,452.9 127.7,457.9 C131.4,462.9 136.2,470.2 140.0,475.3 C143.8,480.4 147.2,484.2 150.5,488.4 C153.8,492.5 157.1,496.7 159.7,500.2 C162.3,503.7 164.3,505.7 166.3,509.4 C168.3,513.1 169.3,518.2 171.5,522.6 C173.7,527.0 176.8,531.3 179.4,535.7 C182.0,540.1 184.7,544.6 187.3,548.8 C189.9,553.0 192.1,556.8 195.2,560.7 C198.3,564.7 202.5,568.8 205.7,572.5 C208.9,576.2 212.1,580.1 214.2,583.0 C216.2,585.9 217.4,588.8 218.0,590.0" fill="none" stroke="#5a5ee8" stroke-width="1.0"/>
<path d="M102.2,381.5 C103.9,380.9 105.7,382.0 109.9,384.1 C114.2,386.2 121.3,390.9 127.7,394.3 C134.1,397.7 142.8,401.8 148.2,404.5 C153.6,407.2 156.0,408.6 160.0,410.5 C164.0,412.4 167.6,413.1 172.0,416.0 C176.4,418.9 181.7,424.4 186.7,427.9 C191.7,431.4 196.5,433.9 201.8,437.1 C207.1,440.3 213.0,443.6 218.6,447.2 C224.2,450.8 229.8,455.6 235.4,459.0 C241.0,462.4 246.8,465.6 252.1,467.4 C257.4,469.2 262.8,468.8 267.4,469.6 C272.0,470.4 276.5,471.3 279.8,472.1 C283.1,472.9 285.8,473.4 287.3,474.6 C288.9,475.9 289.1,477.5 289.1,479.6 C289.1,481.7 288.2,484.1 287.3,487.0 C286.4,489.9 284.9,493.6 283.5,496.9 C282.1,500.2 280.5,502.9 278.6,506.8 C276.8,510.7 274.2,516.3 272.4,520.0 C270.6,523.7 268.0,524.6 267.9,528.8 C267.8,533.0 271.8,539.9 272.0,545.4 C272.2,550.9 271.6,557.4 269.3,562.0 C267.0,566.6 262.4,570.3 258.2,573.1 C254.0,575.9 248.5,578.1 244.3,578.7 C240.1,579.3 235.4,577.3 233.0,576.5 C230.6,575.7 231.5,575.1 230.0,573.8 C228.5,572.5 226.6,571.2 224.1,568.6 C221.6,566.0 218.0,561.5 214.9,558.0 C211.8,554.5 208.3,550.8 205.7,547.5 C203.1,544.2 201.3,542.0 199.1,538.3 C196.9,534.6 195.2,530.0 192.6,525.2 C190.0,520.4 186.2,514.2 183.4,509.4 C180.6,504.6 178.3,500.7 175.5,496.3 C172.7,491.9 168.9,487.1 166.3,483.1 C163.7,479.2 162.1,476.1 159.7,472.6 C157.3,469.1 154.8,465.2 152.0,462.0 C149.2,458.8 147.2,458.0 143.1,453.1 C139.0,448.2 132.8,439.4 127.7,432.6 C122.6,425.8 116.7,418.1 112.4,412.2 C108.2,406.2 104.3,400.9 102.2,396.9 C100.1,392.9 99.6,390.6 99.6,388.0 C99.6,385.4 100.5,382.1 102.2,381.5 Z" fill="none" stroke="#5a5ee8" stroke-width="1.0" stroke-dasharray="2 2.3"/>
<path d="M337.0,440.0 C336.3,439.6 335.3,438.9 332.6,437.4 C329.9,435.9 324.4,433.3 320.8,431.2 C317.2,429.1 314.3,426.9 310.8,425.0 C307.3,423.1 303.1,421.1 300.0,419.5 C296.9,417.9 295.3,416.8 292.4,415.3 C289.5,413.8 286.3,412.2 282.4,410.3 C278.5,408.4 273.4,405.8 268.9,403.6 C264.4,401.4 260.0,399.0 255.5,396.9 C251.0,394.8 246.8,392.7 242.1,391.0 C237.3,389.3 232.3,388.2 227.0,386.8 C221.7,385.4 214.7,383.6 210.2,382.6 C205.7,381.6 202.8,380.2 200.1,380.9 C197.4,381.6 194.8,384.7 194.2,386.8 C193.6,388.9 195.0,391.3 196.8,393.5 C198.6,395.7 201.5,398.0 205.1,400.2 C208.7,402.4 214.1,404.7 218.6,406.9 C223.1,409.1 228.1,411.1 232.0,413.6 C235.9,416.1 238.4,419.3 242.1,422.0 C245.8,424.7 250.4,427.5 254.0,430.0 C257.6,432.5 260.5,434.4 263.5,437.0 C266.5,439.6 269.5,442.6 272.0,445.4 C274.5,448.2 276.6,450.9 278.6,454.0 C280.6,457.1 282.4,461.2 284.0,464.0 C285.6,466.8 286.6,468.5 288.0,470.5 C289.4,472.5 290.5,474.0 292.2,475.8 C293.9,477.6 295.9,480.3 298.4,481.4 C300.9,482.5 304.8,482.4 307.1,482.3 C309.4,482.2 310.5,482.1 312.1,480.8 C313.8,479.5 315.1,476.9 317.0,474.6 C318.9,472.3 321.1,469.4 323.2,467.1 C325.3,464.8 327.8,462.2 329.4,460.9 C331.0,459.6 331.3,459.8 332.6,459.1 C333.9,458.5 336.3,457.4 337.0,457.0" fill="none" stroke="#ea9a68" stroke-width="1.0"/>
<path d="M337.0,450.0 C336.2,449.8 334.0,448.9 332.5,448.5 C331.0,448.1 330.1,448.3 328.2,447.3 C326.2,446.3 323.7,444.4 320.8,442.3 C317.9,440.2 314.3,437.6 310.8,434.9 C307.3,432.2 303.6,428.9 300.0,426.2 C296.4,423.5 293.2,421.1 289.1,418.7 C285.0,416.3 280.1,414.2 275.6,412.0 C271.1,409.8 266.7,407.4 262.2,405.3 C257.7,403.2 253.3,401.1 248.8,399.4 C244.3,397.7 239.6,396.2 235.4,395.2 C231.2,394.2 226.4,393.5 223.6,393.5 C220.8,393.5 219.1,393.9 218.6,395.2 C218.1,396.4 218.9,398.8 220.3,401.0 C221.7,403.2 223.7,405.7 227.0,408.6 C230.3,411.6 235.7,415.6 240.4,418.7 C245.1,421.8 250.7,424.1 255.2,427.0 C259.7,429.9 263.4,432.9 267.3,436.0 C271.2,439.1 275.2,442.5 278.5,445.8 C281.8,449.1 284.5,452.5 287.0,455.8 C289.5,459.1 291.2,463.1 293.5,465.8 C295.8,468.5 298.6,470.6 300.9,472.1 C303.2,473.6 305.6,475.0 307.1,474.6 C308.7,474.2 309.6,471.9 310.2,469.6 C310.8,467.3 310.3,463.4 310.8,460.9 C311.3,458.4 311.9,456.2 313.3,454.7 C314.8,453.1 317.6,452.2 319.5,451.6 C321.4,451.0 322.3,451.3 324.5,451.0 C326.7,450.7 330.4,450.2 332.5,450.0 C334.6,449.8 336.2,450.0 337.0,450.0" fill="none" stroke="#ea9a68" stroke-width="1.0" stroke-dasharray="2 2.3"/>
</g>
<circle cx="242.5" cy="473.8" r="82.2" fill="none" stroke="#8c8c8c" stroke-width="0.8"/>
<line x1="242.5" y1="391.6" x2="242.5" y2="556.0" stroke="#8c8c8c" stroke-width="0.8"/>
<line x1="242.5" y1="473.8" x2="174.5" y2="431.4" stroke="#484848" stroke-width="0.55"/>
<line x1="242.5" y1="473.8" x2="173.7" y2="432.2" stroke="#484848" stroke-width="0.55"/>
<line x1="242.5" y1="473.8" x2="172.5" y2="433.5" stroke="#484848" stroke-width="0.55"/>
<line x1="242.5" y1="473.8" x2="161.1" y2="464.4" stroke="#484848" stroke-width="0.55"/>
<line x1="242.5" y1="473.8" x2="161.1" y2="472.7" stroke="#484848" stroke-width="0.55"/>
<line x1="242.5" y1="473.8" x2="161" y2="488" stroke="#484848" stroke-width="0.55"/>
<line x1="242.5" y1="473.8" x2="162" y2="491" stroke="#484848" stroke-width="0.55"/>
<line x1="242.5" y1="473.8" x2="170" y2="492.5" stroke="#484848" stroke-width="0.55"/>
<line x1="242.5" y1="473.8" x2="199.4" y2="538.5" stroke="#484848" stroke-width="0.55"/>
<line x1="242.5" y1="473.8" x2="216" y2="551.5" stroke="#484848" stroke-width="0.55"/>
<line x1="242.5" y1="473.8" x2="230.4" y2="554.3" stroke="#484848" stroke-width="0.55"/>
<line x1="242.5" y1="473.8" x2="242.9" y2="548.2" stroke="#484848" stroke-width="0.55"/>
<line x1="242.5" y1="473.8" x2="316.4" y2="509.1" stroke="#484848" stroke-width="0.55"/>
<line x1="242.5" y1="473.8" x2="323.5" y2="488.5" stroke="#484848" stroke-width="0.55"/>
<line x1="242.5" y1="473.8" x2="323.2" y2="487.6" stroke="#484848" stroke-width="0.55"/>
<line x1="242.5" y1="473.8" x2="323.9" y2="481.4" stroke="#484848" stroke-width="0.55"/>
<line x1="242.5" y1="473.8" x2="316.4" y2="474" stroke="#484848" stroke-width="0.55"/>
<line x1="242.5" y1="473.8" x2="325.7" y2="468.4" stroke="#484848" stroke-width="0.55"/>
<line x1="242.5" y1="473.8" x2="323.2" y2="455.4" stroke="#484848" stroke-width="0.55"/>
<line x1="242.5" y1="473.8" x2="313.3" y2="432.4" stroke="#484848" stroke-width="0.55"/>
<rect x="41.5" y="323.5" width="291.5" height="261.0" fill="none" stroke="#8a8a8a" stroke-width="1"/>
<line x1="108.5" y1="584.5" x2="108.5" y2="589.5" stroke="#8a8a8a" stroke-width="1"/>
<text transform="translate(109.7 603) scale(1.1 1)" font-size="10" text-anchor="middle" fill="#000">−10</text>
<line x1="176.5" y1="584.5" x2="176.5" y2="589.5" stroke="#8a8a8a" stroke-width="1"/>
<text transform="translate(177.7 603) scale(1.1 1)" font-size="10" text-anchor="middle" fill="#000">−5</text>
<line x1="244.5" y1="584.5" x2="244.5" y2="589.5" stroke="#8a8a8a" stroke-width="1"/>
<text transform="translate(245.7 603) scale(1.1 1)" font-size="10" text-anchor="middle" fill="#000">0</text>
<line x1="312.5" y1="584.5" x2="312.5" y2="589.5" stroke="#8a8a8a" stroke-width="1"/>
<text transform="translate(313.7 603) scale(1.1 1)" font-size="10" text-anchor="middle" fill="#000">5</text>
<line x1="36.5" y1="546.5" x2="41.5" y2="546.5" stroke="#8a8a8a" stroke-width="1"/>
<text transform="translate(29.8 546.5) rotate(-90) scale(1.1 1)" font-size="10" text-anchor="middle" fill="#000">−4</text>
<line x1="36.5" y1="502.5" x2="41.5" y2="502.5" stroke="#8a8a8a" stroke-width="1"/>
<text transform="translate(29.8 502.5) rotate(-90) scale(1.1 1)" font-size="10" text-anchor="middle" fill="#000">−2</text>
<line x1="36.5" y1="458.5" x2="41.5" y2="458.5" stroke="#8a8a8a" stroke-width="1"/>
<text transform="translate(29.8 458.5) rotate(-90) scale(1.1 1)" font-size="10" text-anchor="middle" fill="#000">0</text>
<line x1="36.5" y1="414.5" x2="41.5" y2="414.5" stroke="#8a8a8a" stroke-width="1"/>
<text transform="translate(29.8 414.5) rotate(-90) scale(1.1 1)" font-size="10" text-anchor="middle" fill="#000">2</text>
<line x1="36.5" y1="370.5" x2="41.5" y2="370.5" stroke="#8a8a8a" stroke-width="1"/>
<text transform="translate(29.8 370.5) rotate(-90) scale(1.1 1)" font-size="10" text-anchor="middle" fill="#000">4</text>
<line x1="36.5" y1="326.5" x2="41.5" y2="326.5" stroke="#8a8a8a" stroke-width="1"/>
<text transform="translate(29.8 326.5) rotate(-90) scale(1.1 1)" font-size="10" text-anchor="middle" fill="#000">6</text>
<text transform="translate(49.3 340.8) scale(1.1 1)" font-size="15.5" text-anchor="start" fill="#000">c)</text>
<text transform="translate(46 578) scale(1.1 1)" font-size="12.6" text-anchor="start" font-style="italic" fill="#000">Valeriana rotundifolia</text>
<text transform="translate(183.4 622.9) scale(1.0 1)" font-size="16.4" text-anchor="middle" fill="#000">PC1(69.58 %)</text>
<text transform="translate(12.9 441.9) rotate(-90) scale(1.0 1)" font-size="16.4" text-anchor="middle" fill="#000">PC2 (24.53 %)</text>
<text transform="translate(160.3 432.5) scale(1.05 1)" font-size="8.943999999999999" text-anchor="start" fill="#000">19</text>
<text transform="translate(159.0 438.5) scale(1.05 1)" font-size="8.943999999999999" text-anchor="start" fill="#000">16</text>
<text transform="translate(176.9 432.5) scale(1.05 1)" font-size="8.943999999999999" text-anchor="start" fill="#000">13</text>
<text transform="translate(149.7 461.8) scale(1.05 1)" font-size="8.943999999999999" text-anchor="start" fill="#000">12</text>
<text transform="translate(149.2 489.5) scale(1.05 1)" font-size="8.943999999999999" text-anchor="start" fill="#000">14</text>
<text transform="translate(150.0 496.4) scale(1.05 1)" font-size="8.943999999999999" text-anchor="start" fill="#000">18</text>
<text transform="translate(165.1 499.1) scale(1.05 1)" font-size="8.943999999999999" text-anchor="start" fill="#000">17</text>
<text transform="translate(185.1 549.0) scale(1.05 1)" font-size="8.943999999999999" text-anchor="start" fill="#000">04</text>
<text transform="translate(203.7 560.1) scale(1.05 1)" font-size="8.943999999999999" text-anchor="start" fill="#000">07</text>
<text transform="translate(222.3 563.7) scale(1.05 1)" font-size="8.943999999999999" text-anchor="start" fill="#000">02</text>
<text transform="translate(244.5 552.6) scale(1.05 1)" font-size="8.943999999999999" text-anchor="start" fill="#000">03</text>
<text transform="translate(310.5 430.2) scale(1.05 1)" font-size="8.943999999999999" text-anchor="start" fill="#000">15</text>
<text transform="translate(322.2 453.2) scale(1.05 1)" font-size="8.943999999999999" text-anchor="start" fill="#000">06</text>
<text transform="translate(324.7 467.4) scale(1.05 1)" font-size="8.943999999999999" text-anchor="start" fill="#000">11</text>
<text transform="translate(316.6 477.4) scale(1.05 1)" font-size="8.943999999999999" text-anchor="start" fill="#000">09</text>
<text transform="translate(322.8 485.8) scale(1.05 1)" font-size="8.943999999999999" text-anchor="start" fill="#000">01</text>
<text transform="translate(322.9 494.1) scale(1.05 1)" font-size="8.943999999999999" text-anchor="start" fill="#000">10</text>
<text transform="translate(312.9 496.6) scale(1.05 1)" font-size="8.943999999999999" text-anchor="start" fill="#000">08</text>
<text transform="translate(318.5 515.8) scale(1.05 1)" font-size="8.943999999999999" text-anchor="start" fill="#000">05</text>
<g clip-path="url(#cd)">
<ellipse cx="556" cy="505" rx="125" ry="48" transform="rotate(0 556 505)" fill="url(#g11)"/>
<ellipse cx="546" cy="506" rx="62" ry="22" transform="rotate(0 546 506)" fill="url(#g12)"/>
<ellipse cx="560" cy="464" rx="42" ry="11" transform="rotate(-3 560 464)" fill="url(#g13)"/>
<path d="M460.0,318.0 C459.8,318.9 459.0,320.4 458.6,323.2 C458.2,326.0 457.8,331.3 457.4,334.9 C457.0,338.5 458.0,341.1 456.1,344.8 C454.2,348.5 449.1,353.5 446.2,357.2 C443.3,360.9 441.3,363.4 438.8,367.1 C436.3,370.8 432.8,375.1 431.3,379.6 C429.9,384.2 430.2,388.6 430.1,394.4 C430.0,400.2 430.0,408.9 430.8,414.3 C431.6,419.7 433.0,423.3 435.1,426.7 C437.2,430.1 440.2,433.0 443.7,434.6 C447.2,436.2 452.4,436.7 456.1,436.6 C459.8,436.5 463.2,436.2 466.1,434.1 C469.0,432.0 471.0,427.9 473.5,424.2 C476.0,420.5 478.5,415.5 481.0,411.8 C483.5,408.1 485.5,404.8 488.4,401.9 C491.3,399.0 494.4,396.5 498.3,394.4 C502.2,392.3 507.4,390.9 512.0,389.5 C516.6,388.1 521.5,387.2 526.0,385.7 C530.5,384.2 534.8,381.6 539.2,380.4 C543.6,379.2 547.9,378.3 552.3,378.3 C556.7,378.3 561.5,379.2 565.4,380.4 C569.3,381.6 572.8,383.1 575.9,385.7 C579.0,388.3 580.3,392.5 583.8,396.2 C587.3,399.9 592.6,405.3 597.0,408.0 C601.4,410.7 605.7,411.6 610.1,412.5 C614.5,413.4 618.8,413.6 623.2,413.3 C627.6,413.0 632.0,411.7 636.4,410.6 C640.8,409.5 645.8,408.7 649.5,406.7 C653.2,404.7 656.7,401.9 658.7,398.8 C660.7,395.7 661.7,391.6 661.3,388.3 C660.9,385.0 658.5,382.2 656.1,379.1 C653.7,376.0 649.8,373.2 646.9,369.9 C644.0,366.6 641.6,362.9 639.0,359.4 C636.4,355.9 635.0,352.2 631.1,348.9 C627.2,345.6 621.1,342.8 615.4,339.7 C609.7,336.6 602.9,333.2 597.0,330.5 C591.1,327.8 584.1,325.3 579.9,323.4 C575.7,321.5 573.3,319.7 572.0,319.0" fill="none" stroke="#5a5ee8" stroke-width="1.0"/>
<path d="M490.9,332.4 C494.9,331.3 498.3,333.0 505.0,333.1 C511.7,333.2 523.4,332.7 531.3,333.1 C539.2,333.6 545.3,334.3 552.3,335.8 C559.3,337.3 567.2,340.1 573.3,342.3 C579.4,344.5 584.7,346.5 589.1,348.9 C593.5,351.3 597.6,354.6 599.6,356.8 C601.6,359.0 601.8,360.2 600.9,362.0 C600.0,363.8 597.1,366.6 594.3,367.3 C591.4,368.0 587.3,367.1 583.8,366.0 C580.3,364.9 577.7,362.9 573.3,360.7 C568.9,358.5 562.3,354.4 557.5,352.8 C552.7,351.2 548.8,351.0 544.4,351.0 C540.0,351.0 535.7,351.0 531.3,352.8 C526.9,354.6 522.5,358.7 518.1,362.0 C513.7,365.3 508.3,370.4 505.0,372.5 C501.7,374.6 501.5,372.6 498.3,374.6 C495.1,376.6 490.0,381.2 485.9,384.5 C481.8,387.8 477.6,392.1 473.5,394.4 C469.4,396.7 464.4,398.6 461.1,398.2 C457.8,397.8 455.6,394.7 453.7,392.0 C451.8,389.3 449.9,386.1 449.9,382.0 C449.9,377.9 451.0,372.1 453.7,367.1 C456.4,362.2 461.6,356.8 466.1,352.3 C470.7,347.8 476.9,343.2 481.0,339.9 C485.1,336.6 486.9,333.5 490.9,332.4 Z" fill="none" stroke="#5a5ee8" stroke-width="1.0" stroke-dasharray="2 2.3"/>
<path d="M388.0,488.0 C388.7,487.5 389.7,486.7 392.0,485.1 C394.3,483.6 397.6,480.4 401.6,478.7 C405.6,477.0 411.0,475.5 416.1,474.7 C421.2,473.9 426.8,474.6 432.1,473.9 C437.5,473.2 442.8,472.3 448.2,470.7 C453.6,469.1 458.9,466.1 464.3,464.2 C469.7,462.3 475.2,460.8 480.3,459.4 C485.4,457.9 490.0,457.2 495.0,455.5 C500.0,453.8 503.7,450.6 510.1,449.2 C516.5,447.8 525.6,447.2 533.4,446.9 C541.2,446.6 549.8,447.2 556.8,447.6 C563.8,448.0 568.3,449.1 575.5,449.2 C582.7,449.3 594.2,448.4 600.0,448.0 C605.8,447.6 604.0,446.8 610.1,446.6 C616.2,446.4 629.5,446.0 636.4,446.6 C643.3,447.2 646.9,448.6 651.5,450.0 C656.1,451.4 659.8,453.4 663.9,455.0 C668.0,456.6 672.8,458.5 676.3,459.9 C679.8,461.3 682.4,461.9 685.0,463.6 C687.6,465.3 690.8,467.3 692.0,470.0 C693.2,472.7 693.2,477.6 692.0,480.0 C690.8,482.4 687.6,482.2 685.0,484.7 C682.4,487.1 679.8,491.8 676.3,494.7 C672.8,497.6 670.1,498.8 663.9,502.1 C657.7,505.4 647.4,509.9 639.1,514.5 C630.8,519.0 622.6,524.9 614.3,529.4 C606.0,533.9 597.7,537.7 589.4,541.8 C581.1,545.9 572.8,549.9 564.6,554.2 C556.4,558.5 545.4,564.3 540.0,567.6 C534.6,570.9 535.4,571.4 532.3,574.2 C529.2,577.0 523.8,581.6 521.4,584.2 C519.0,586.8 518.6,589.0 518.0,590.0" fill="none" stroke="#5a5ee8" stroke-width="1.0"/>
<path d="M388.0,556.0 C388.9,556.8 391.5,558.3 393.3,561.0 C395.1,563.7 396.4,568.7 398.8,572.0 C401.2,575.3 404.9,578.7 407.5,580.7 C410.1,582.7 412.4,582.7 414.1,584.2 C415.9,585.8 417.4,589.0 418.0,590.0" fill="none" stroke="#5a5ee8" stroke-width="1.0"/>
<path d="M401.6,496.4 C403.0,495.4 407.6,493.3 411.3,492.3 C415.1,491.3 419.3,491.0 424.1,490.5 C428.9,490.0 434.4,490.2 440.0,489.5 C445.6,488.8 451.7,487.6 457.5,486.4 C463.3,485.1 469.1,483.4 475.0,482.0 C480.9,480.6 488.2,479.1 492.6,477.7 C497.0,476.2 497.8,474.6 501.3,473.3 C504.8,472.0 509.2,470.8 513.6,469.8 C518.0,468.8 522.4,467.6 527.6,467.2 C532.9,466.8 538.9,467.6 545.1,467.2 C551.3,466.8 557.2,465.7 564.6,464.9 C572.0,464.1 581.1,462.6 589.4,462.4 C597.7,462.2 606.0,462.6 614.3,463.6 C622.6,464.6 633.1,466.5 639.1,468.6 C645.1,470.7 648.6,473.4 650.2,476.1 C651.9,478.8 650.9,481.6 649.0,484.7 C647.1,487.8 643.2,491.4 639.1,494.7 C635.0,498.0 629.2,500.9 624.2,504.6 C619.2,508.3 615.1,512.5 609.3,517.0 C603.5,521.5 596.8,526.9 589.4,531.9 C582.0,536.9 572.8,542.3 564.6,546.8 C556.4,551.3 547.2,555.5 540.0,558.8 C532.8,562.1 527.1,564.3 521.4,566.5 C515.7,568.7 511.5,570.2 506.0,572.0 C500.5,573.8 494.3,575.8 488.5,577.4 C482.7,579.0 476.5,581.1 471.0,581.8 C465.5,582.5 460.8,582.7 455.7,581.8 C450.6,580.9 446.2,578.9 440.4,576.3 C434.6,573.7 425.9,570.0 421.0,566.0 C416.1,562.0 413.7,557.6 411.0,552.0 C408.3,546.4 406.8,538.4 405.0,532.6 C403.2,526.8 401.4,521.6 400.5,517.0 C399.6,512.4 399.2,508.2 399.6,505.0 C400.0,501.8 402.7,499.4 403.0,498.0 C403.3,496.6 400.2,497.3 401.6,496.4 Z" fill="none" stroke="#5a5ee8" stroke-width="1.0" stroke-dasharray="2 2.3"/>
<path d="M392.9,434.1 C394.5,431.5 396.8,432.5 397.8,429.2 C398.8,425.9 398.9,418.9 399.1,414.3 C399.3,409.8 398.5,406.0 399.1,401.9 C399.7,397.8 401.0,392.3 402.8,389.5 C404.6,386.7 407.1,385.6 410.2,385.0 C413.3,384.4 417.5,384.6 421.4,385.8 C425.3,387.0 429.7,389.7 433.8,392.0 C437.9,394.3 441.9,396.7 446.2,399.4 C450.5,402.1 455.0,405.8 459.4,408.0 C463.8,410.2 467.5,411.4 472.3,412.8 C477.1,414.2 482.9,414.5 488.4,416.1 C493.8,417.7 500.1,420.8 505.0,422.5 C509.9,424.2 514.1,424.3 518.1,426.4 C522.1,428.5 526.4,432.4 528.8,435.2 C531.2,438.0 531.5,440.7 532.3,443.4 C533.1,446.1 532.0,449.9 533.4,451.5 C534.8,453.1 536.5,452.7 540.4,452.7 C544.3,452.7 550.9,451.9 556.8,451.5 C562.6,451.1 570.0,449.4 575.5,450.4 C581.0,451.4 586.0,454.3 589.5,457.4 C593.0,460.5 595.3,466.4 596.5,469.1 C597.7,471.8 597.7,472.1 596.5,473.7 C595.3,475.2 592.2,476.8 589.5,478.4 C586.8,480.0 584.5,481.2 580.2,483.1 C575.9,485.1 569.6,487.8 563.8,490.1 C557.9,492.4 551.3,495.0 545.1,497.1 C538.9,499.2 532.2,500.9 526.4,502.9 C520.6,504.8 514.8,507.2 510.1,508.8 C505.4,510.4 502.3,511.1 498.4,512.3 C494.5,513.5 490.6,514.8 486.7,515.8 C482.8,516.8 478.9,517.3 475.0,518.1 C471.1,518.9 467.3,519.8 463.4,520.4 C459.5,521.0 455.6,521.0 451.7,521.6 C447.8,522.2 444.8,522.9 440.2,523.9 C435.6,524.9 428.7,527.0 424.4,527.8 C420.1,528.6 417.9,529.3 414.6,528.8 C411.3,528.3 407.3,526.5 404.7,524.9 C402.1,523.3 400.1,521.3 398.8,519.0 C397.5,516.7 397.0,513.7 396.8,511.1 C396.6,508.5 397.8,505.5 397.8,503.2 C397.8,500.9 397.6,498.6 396.8,497.3 C396.0,496.0 394.4,496.5 392.9,495.3 C391.4,494.1 389.1,494.2 388.0,490.0 C386.9,485.8 385.0,475.3 386.0,470.0 C387.0,464.7 393.7,462.2 394.0,458.0 C394.3,453.8 388.2,449.0 388.0,445.0 C387.8,441.0 391.3,436.7 392.9,434.1 Z" fill="none" stroke="#ea9a68" stroke-width="1.0"/>
<path d="M433.8,411.2 C436.7,411.0 441.6,412.0 446.2,413.1 C450.8,414.2 456.1,416.1 461.1,418.0 C466.1,419.9 471.0,422.3 476.0,424.2 C481.0,426.1 486.1,427.9 490.9,429.2 C495.7,430.4 500.9,430.6 505.0,431.7 C509.1,432.8 512.9,433.9 515.5,435.6 C518.1,437.4 519.9,440.1 520.8,442.2 C521.6,444.3 521.6,446.2 520.6,448.0 C519.6,449.8 516.8,451.9 515.0,453.0 C513.2,454.1 513.8,454.0 510.1,454.9 C506.4,455.8 498.5,457.1 492.6,458.4 C486.8,459.7 480.9,461.2 475.0,462.8 C469.1,464.4 463.3,466.4 457.5,468.0 C451.7,469.6 445.6,471.1 440.0,472.4 C434.4,473.7 429.1,475.2 424.1,476.0 C419.1,476.8 412.9,478.3 410.0,477.0 C407.1,475.7 407.3,472.0 407.0,468.0 C406.7,464.0 407.7,457.4 408.1,453.0 C408.6,448.6 408.4,445.6 409.7,441.8 C411.0,438.1 413.7,433.7 416.1,430.5 C418.5,427.3 422.0,425.2 424.1,422.5 C426.2,419.8 427.3,416.4 428.9,414.5 C430.5,412.6 430.9,411.4 433.8,411.2 Z" fill="none" stroke="#ea9a68" stroke-width="1.0" stroke-dasharray="2 2.3"/>
<path d="M420.0,489.0 C424.8,487.7 433.8,487.7 440.0,486.4 C446.2,485.1 451.7,483.0 457.5,481.0 C463.3,479.0 469.1,476.4 475.0,474.2 C480.9,472.0 486.8,469.8 492.6,468.0 C498.5,466.2 504.3,464.9 510.1,463.7 C515.9,462.5 521.8,461.6 527.6,461.0 C533.4,460.4 539.7,460.2 545.1,460.1 C550.5,460.0 556.5,459.5 560.0,460.1 C563.5,460.8 564.8,462.3 566.0,464.0 C567.2,465.7 567.8,468.2 567.3,470.2 C566.8,472.2 564.2,474.8 563.0,476.0 C561.8,477.2 564.4,475.8 560.0,477.7 C555.6,479.6 543.3,484.8 536.4,487.3 C529.5,489.8 525.1,490.9 518.8,492.6 C512.5,494.4 504.0,496.4 498.7,497.8 C493.4,499.2 491.1,499.8 486.7,501.0 C482.3,502.2 477.4,503.6 472.3,505.0 C467.2,506.4 461.6,508.2 456.2,509.5 C450.8,510.8 445.5,512.0 440.2,513.0 C434.9,514.0 428.7,515.2 424.1,515.6 C419.6,516.0 415.6,516.4 412.9,515.6 C410.2,514.8 408.9,512.9 408.1,510.8 C407.3,508.7 407.6,505.6 408.1,502.8 C408.6,500.0 409.0,496.3 411.0,494.0 C413.0,491.7 415.2,490.3 420.0,489.0 Z" fill="none" stroke="#ea9a68" stroke-width="1.0" stroke-dasharray="2 2.3"/>
</g>
<circle cx="498.3" cy="480.3" r="82.5" fill="none" stroke="#8c8c8c" stroke-width="0.8"/>
<line x1="498.3" y1="397.8" x2="498.3" y2="562.8" stroke="#8c8c8c" stroke-width="0.8"/>
<line x1="498.3" y1="480.3" x2="478" y2="416.8" stroke="#484848" stroke-width="0.55"/>
<line x1="498.3" y1="480.3" x2="428.8" y2="440.8" stroke="#484848" stroke-width="0.55"/>
<line x1="498.3" y1="480.3" x2="420.5" y2="468.1" stroke="#484848" stroke-width="0.55"/>
<line x1="498.3" y1="480.3" x2="417.5" y2="474.6" stroke="#484848" stroke-width="0.55"/>
<line x1="498.3" y1="480.3" x2="416.5" y2="481.1" stroke="#484848" stroke-width="0.55"/>
<line x1="498.3" y1="480.3" x2="417.5" y2="486.5" stroke="#484848" stroke-width="0.55"/>
<line x1="498.3" y1="480.3" x2="417.5" y2="492.4" stroke="#484848" stroke-width="0.55"/>
<line x1="498.3" y1="480.3" x2="425" y2="497" stroke="#484848" stroke-width="0.55"/>
<line x1="498.3" y1="480.3" x2="427.4" y2="514" stroke="#484848" stroke-width="0.55"/>
<line x1="498.3" y1="480.3" x2="445.1" y2="523.9" stroke="#484848" stroke-width="0.55"/>
<line x1="498.3" y1="480.3" x2="474.7" y2="516" stroke="#484848" stroke-width="0.55"/>
<line x1="498.3" y1="480.3" x2="492.4" y2="542.6" stroke="#484848" stroke-width="0.55"/>
<line x1="498.3" y1="480.3" x2="570.1" y2="460.4" stroke="#484848" stroke-width="0.55"/>
<line x1="498.3" y1="480.3" x2="578.3" y2="467.4" stroke="#484848" stroke-width="0.55"/>
<line x1="498.3" y1="480.3" x2="579" y2="472.3" stroke="#484848" stroke-width="0.55"/>
<line x1="498.3" y1="480.3" x2="579.5" y2="480.3" stroke="#484848" stroke-width="0.55"/>
<line x1="498.3" y1="480.3" x2="578.3" y2="488.5" stroke="#484848" stroke-width="0.55"/>
<line x1="498.3" y1="480.3" x2="578.3" y2="499.1" stroke="#484848" stroke-width="0.55"/>
<line x1="498.3" y1="480.3" x2="577" y2="504.6" stroke="#484848" stroke-width="0.55"/>
<line x1="498.3" y1="480.3" x2="575" y2="511.5" stroke="#484848" stroke-width="0.55"/>
<rect x="392.5" y="323.5" width="292.0" height="261.0" fill="none" stroke="#8a8a8a" stroke-width="1"/>
<line x1="431" y1="584.5" x2="431" y2="589.5" stroke="#8a8a8a" stroke-width="1"/>
<text transform="translate(432.2 603) scale(1.1 1)" font-size="10" text-anchor="middle" fill="#000">−5</text>
<line x1="500.5" y1="584.5" x2="500.5" y2="589.5" stroke="#8a8a8a" stroke-width="1"/>
<text transform="translate(501.7 603) scale(1.1 1)" font-size="10" text-anchor="middle" fill="#000">0</text>
<line x1="570" y1="584.5" x2="570" y2="589.5" stroke="#8a8a8a" stroke-width="1"/>
<text transform="translate(571.2 603) scale(1.1 1)" font-size="10" text-anchor="middle" fill="#000">5</text>
<line x1="639.5" y1="584.5" x2="639.5" y2="589.5" stroke="#8a8a8a" stroke-width="1"/>
<text transform="translate(640.7 603) scale(1.1 1)" font-size="10" text-anchor="middle" fill="#000">10</text>
<line x1="387.5" y1="541.5" x2="392.5" y2="541.5" stroke="#8a8a8a" stroke-width="1"/>
<text transform="translate(381.3 541.5) rotate(-90) scale(1.1 1)" font-size="10" text-anchor="middle" fill="#000">−2</text>
<line x1="387.5" y1="481" x2="392.5" y2="481" stroke="#8a8a8a" stroke-width="1"/>
<text transform="translate(381.3 481) rotate(-90) scale(1.1 1)" font-size="10" text-anchor="middle" fill="#000">0</text>
<line x1="387.5" y1="421" x2="392.5" y2="421" stroke="#8a8a8a" stroke-width="1"/>
<text transform="translate(381.3 421) rotate(-90) scale(1.1 1)" font-size="10" text-anchor="middle" fill="#000">2</text>
<line x1="387.5" y1="361" x2="392.5" y2="361" stroke="#8a8a8a" stroke-width="1"/>
<text transform="translate(381.3 361) rotate(-90) scale(1.1 1)" font-size="10" text-anchor="middle" fill="#000">4</text>
<text transform="translate(405.5 339.5) scale(1.1 1)" font-size="15.5" text-anchor="start" fill="#000">d)</text>
<text transform="translate(680.5 576.8) scale(1.1 1)" font-size="12.6" text-anchor="end" font-style="italic" fill="#000">Gentiana alpina</text>
<text transform="translate(540.9 622.9) scale(1.0 1)" font-size="16.4" text-anchor="middle" fill="#000">PC1(70.16 %)</text>
<text transform="translate(360.6 443.6) rotate(-90) scale(1.0 1)" font-size="16.4" text-anchor="middle" fill="#000">PC2 (12.88 %)</text>
<text transform="translate(467.5 414.6) scale(1.05 1)" font-size="12.792000000000002" text-anchor="start" fill="#000">15</text>
<text transform="translate(408.9 441.9) scale(1.05 1)" font-size="12.792000000000002" text-anchor="start" fill="#000">08</text>
<text transform="translate(419.5 467.1) scale(1.05 1)" font-size="12.792000000000002" text-anchor="start" fill="#000">06</text>
<text transform="translate(404.2 473.9) scale(1.05 1)" font-size="12.792000000000002" text-anchor="start" fill="#000">11</text>
<text transform="translate(402.2 483.8) scale(1.05 1)" font-size="12.792000000000002" text-anchor="start" fill="#000">10</text>
<text transform="translate(402.1 493.3) scale(1.05 1)" font-size="12.792000000000002" text-anchor="start" fill="#000">01</text>
<text transform="translate(402.1 504.5) scale(1.05 1)" font-size="12.792000000000002" text-anchor="start" fill="#000">05</text>
<text transform="translate(424.8 504.5) scale(1.05 1)" font-size="12.792000000000002" text-anchor="start" fill="#000">03</text>
<text transform="translate(412.0 519.7) scale(1.05 1)" font-size="12.792000000000002" text-anchor="start" fill="#000">02</text>
<text transform="translate(438.0 532.7) scale(1.05 1)" font-size="12.792000000000002" text-anchor="start" fill="#000">07</text>
<text transform="translate(463.2 526.2) scale(1.05 1)" font-size="12.792000000000002" text-anchor="start" fill="#000">04</text>
<text transform="translate(482.0 553.2) scale(1.05 1)" font-size="12.792000000000002" text-anchor="start" fill="#000">09</text>
<text transform="translate(560.6 459.0) scale(1.05 1)" font-size="12.792000000000002" text-anchor="start" fill="#000">18</text>
<text transform="translate(577.5 466.4) scale(1.05 1)" font-size="12.792000000000002" text-anchor="start" fill="#000">13</text>
<text transform="translate(577.5 478.1) scale(1.05 1)" font-size="12.792000000000002" text-anchor="start" fill="#000">16</text>
<text transform="translate(578.5 492.0) scale(1.05 1)" font-size="12.792000000000002" text-anchor="start" fill="#000">12</text>
<text transform="translate(577.5 502.9) scale(1.05 1)" font-size="12.792000000000002" text-anchor="start" fill="#000">14</text>
<text transform="translate(576.8 512.8) scale(1.05 1)" font-size="12.792000000000002" text-anchor="start" fill="#000">17</text>
<text transform="translate(574.3 522.3) scale(1.05 1)" font-size="12.792000000000002" text-anchor="start" fill="#000">19</text>
<g clip-path="url(#ce)">
<ellipse cx="160" cy="790" rx="130" ry="80" transform="rotate(10 160 790)" fill="url(#g14)"/>
<ellipse cx="192" cy="760" rx="55" ry="28" transform="rotate(10 192 760)" fill="url(#g15)"/>
<ellipse cx="215" cy="688" rx="78" ry="25" transform="rotate(27 215 688)" fill="url(#g16)"/>
<path d="M105.0,635.0 C106.5,635.8 110.1,637.7 114.3,640.0 C118.5,642.3 124.5,645.9 130.1,648.8 C135.7,651.7 141.8,654.7 147.6,657.5 C153.4,660.3 159.7,663.1 165.1,665.4 C170.5,667.7 175.4,669.5 180.0,671.5 C184.6,673.5 187.2,675.3 192.6,677.6 C198.0,679.9 206.1,682.8 212.3,685.5 C218.5,688.2 225.4,691.4 230.0,694.0 C234.6,696.6 235.9,698.3 240.0,700.9 C244.1,703.5 249.9,707.1 254.8,709.8 C259.8,712.5 264.8,714.7 269.7,717.2 C274.6,719.7 280.1,722.1 284.5,724.6 C288.9,727.1 292.9,729.5 296.4,732.0 C299.9,734.5 302.3,736.8 305.3,739.5 C308.3,742.2 311.7,745.2 314.2,748.4 C316.7,751.6 318.9,755.6 320.1,758.8 C321.3,762.0 321.5,764.8 321.6,767.7 C321.7,770.6 321.2,773.4 320.5,776.0 C319.8,778.6 319.0,780.6 317.6,783.6 C316.2,786.6 315.4,791.4 312.4,794.2 C309.3,797.1 305.0,799.0 299.3,800.7 C293.6,802.5 286.1,803.6 278.2,804.7 C270.3,805.8 260.8,806.6 252.0,807.3 C243.2,807.9 232.3,808.6 225.7,808.6 C219.1,808.6 215.1,806.9 212.5,807.3 C209.9,807.7 209.9,809.5 209.9,811.2 C209.9,813.0 210.3,814.1 212.5,817.8 C214.7,821.5 220.0,828.8 223.1,833.6 C226.2,838.4 229.2,842.8 230.9,846.7 C232.7,850.6 233.6,854.1 233.6,857.2 C233.6,860.3 233.1,862.5 230.9,865.1 C228.7,867.7 224.6,871.2 220.4,873.0 C216.2,874.8 208.8,873.9 206.0,875.6 C203.2,877.4 203.4,879.5 203.4,883.5 C203.4,887.5 205.4,895.7 206.0,899.3 C206.6,902.9 206.8,904.0 207.0,905.0" fill="none" stroke="#5a5ee8" stroke-width="1.0"/>
<path d="M36.0,689.2 C36.8,689.2 36.8,689.2 41.0,689.2 C45.2,689.2 55.9,688.9 61.4,689.2 C66.8,689.5 69.6,689.8 73.7,691.2 C77.8,692.6 82.4,695.2 86.0,697.4 C89.6,699.6 93.0,702.3 95.2,704.5 C97.4,706.7 98.4,709.0 99.2,710.7 C100.0,712.4 100.2,713.2 99.9,714.7 C99.6,716.2 99.2,718.4 97.2,719.9 C95.2,721.4 91.2,722.4 88.0,723.9 C84.8,725.4 81.2,727.1 77.8,729.0 C74.4,730.9 71.0,732.8 67.6,735.2 C64.2,737.6 60.4,740.3 57.3,743.4 C54.2,746.5 51.1,749.9 49.2,753.6 C47.3,757.3 46.5,761.7 46.1,765.8 C45.8,769.9 46.1,774.4 47.1,778.1 C48.1,781.8 50.2,784.9 52.0,788.0 C53.8,791.1 56.8,794.5 58.0,797.0 C59.2,799.5 59.3,800.7 59.0,803.0 C58.7,805.3 56.9,807.0 56.2,810.9 C55.5,814.8 54.9,821.5 54.9,826.2 C54.9,830.9 54.7,835.2 56.2,839.0 C57.7,842.8 60.5,845.8 63.9,849.2 C67.3,852.6 72.3,855.1 76.6,859.4 C80.8,863.7 84.3,870.8 89.4,874.8 C94.5,878.8 101.8,880.7 107.3,883.7 C112.8,886.7 118.3,889.8 122.6,892.6 C126.9,895.4 130.3,898.2 132.9,900.3 C135.5,902.4 137.2,904.2 138.0,905.0" fill="none" stroke="#5a5ee8" stroke-width="1.0"/>
<path d="M61.5,650.0 C63.0,648.7 66.6,648.0 69.0,647.2 C71.4,646.4 73.1,645.5 76.0,645.4 C78.9,645.3 83.0,645.7 86.5,646.6 C90.0,647.5 93.3,649.1 97.0,650.7 C100.7,652.4 104.7,654.3 108.7,656.5 C112.7,658.7 117.3,662.0 121.0,664.1 C124.7,666.2 127.8,667.5 131.0,669.0 C134.2,670.5 136.3,671.4 140.0,673.0 C143.7,674.6 148.1,676.4 153.1,678.5 C158.1,680.6 163.6,683.0 170.2,685.5 C176.8,688.0 185.6,690.5 192.6,693.4 C199.6,696.2 206.1,699.3 212.3,702.6 C218.5,705.9 225.4,709.9 230.0,713.1 C234.6,716.3 235.9,719.3 240.0,721.7 C244.1,724.1 249.9,725.4 254.8,727.6 C259.8,729.8 265.2,732.3 269.7,735.0 C274.1,737.7 278.3,741.2 281.5,743.9 C284.7,746.6 287.4,748.8 289.0,751.3 C290.6,753.8 291.2,756.6 291.2,758.8 C291.2,761.0 290.6,762.7 289.0,764.7 C287.4,766.7 284.7,768.9 281.5,770.6 C278.3,772.3 273.6,773.6 269.7,775.1 C265.8,776.6 262.9,778.2 257.8,779.6 C252.7,781.0 246.4,782.5 238.8,783.6 C231.2,784.7 221.2,785.6 212.5,786.3 C203.8,787.0 193.3,787.0 186.3,787.6 C179.3,788.2 172.9,788.2 170.5,790.2 C168.1,792.2 170.7,795.2 171.8,799.4 C172.9,803.6 176.9,811.2 177.1,815.2 C177.3,819.2 175.9,820.5 173.1,823.1 C170.2,825.7 165.0,829.1 160.0,830.9 C155.0,832.7 146.6,832.5 143.1,833.9 C139.6,835.2 139.2,836.9 139.2,839.0 C139.2,841.1 140.8,843.6 143.1,846.6 C145.4,849.6 149.5,852.6 153.3,856.9 C157.1,861.2 163.8,868.4 166.1,872.2 C168.4,876.0 168.6,877.9 167.3,879.9 C166.0,881.9 162.4,884.5 158.4,884.5 C154.4,884.5 149.1,882.4 143.1,879.9 C137.1,877.4 129.4,873.0 122.6,869.6 C115.8,866.2 108.6,863.2 102.2,859.4 C95.8,855.6 88.6,851.3 84.3,846.6 C80.0,841.9 77.9,835.5 76.6,831.3 C75.3,827.0 75.9,824.9 76.6,821.1 C77.2,817.3 79.8,812.3 80.5,808.3 C81.2,804.3 82.5,800.7 81.0,797.0 C79.5,793.3 74.3,789.8 71.7,786.3 C69.1,782.8 66.7,779.5 65.5,776.1 C64.3,772.7 63.8,769.2 64.5,765.8 C65.2,762.4 67.4,758.3 69.6,755.6 C71.8,752.9 74.7,751.2 77.8,749.5 C80.9,747.8 84.3,747.2 88.0,745.4 C91.7,743.6 95.9,740.5 100.0,738.5 C104.1,736.5 108.7,734.6 112.5,733.5 C116.3,732.4 118.3,732.5 122.7,732.1 C127.1,731.7 133.4,731.7 139.1,731.1 C144.8,730.5 155.0,730.1 157.0,728.5 C159.0,726.9 153.5,723.6 151.1,721.5 C148.7,719.4 144.6,717.0 142.6,715.7 C140.6,714.4 141.5,715.4 138.8,713.6 C136.1,711.8 130.7,707.4 126.6,704.8 C122.5,702.2 118.1,700.4 114.3,697.8 C110.5,695.2 107.1,691.4 104.0,689.2 C100.9,687.0 98.6,686.2 95.9,684.5 C93.2,682.8 90.6,680.6 87.7,678.7 C84.8,676.8 81.5,675.0 78.4,672.9 C75.3,670.8 71.7,667.9 69.0,665.9 C66.3,663.9 63.5,662.4 62.0,660.6 C60.5,658.8 60.1,656.8 60.0,655.0 C59.9,653.2 60.0,651.3 61.5,650.0 Z" fill="none" stroke="#5a5ee8" stroke-width="1.0" stroke-dasharray="2 2.3"/>
<path d="M50.5,634.0 C50.4,634.8 50.1,637.2 49.8,639.0 C49.5,640.8 49.2,642.8 48.6,644.8 C48.0,646.8 46.5,648.8 46.3,650.7 C46.1,652.7 46.5,654.0 47.4,656.5 C48.3,659.0 49.6,663.0 51.5,665.9 C53.4,668.8 55.6,671.1 58.5,674.0 C61.4,676.9 65.5,680.7 69.0,683.4 C72.5,686.1 76.0,688.5 79.5,690.4 C83.0,692.3 86.7,694.0 90.0,695.0 C93.3,696.0 95.6,695.6 99.4,696.2 C103.2,696.8 107.5,697.6 112.6,698.5 C117.7,699.4 124.3,700.1 130.1,701.3 C135.9,702.5 141.8,704.1 147.6,705.7 C153.4,707.3 159.7,709.3 165.1,710.9 C170.5,712.5 175.4,713.8 180.0,715.3 C184.6,716.8 187.2,717.6 192.6,719.6 C198.0,721.6 206.9,725.4 212.3,727.5 C217.7,729.6 220.4,729.8 225.0,732.5 C229.6,735.2 235.0,740.8 240.0,743.9 C245.0,747.0 249.9,748.8 254.8,751.3 C259.8,753.8 264.8,756.7 269.7,758.8 C274.6,760.9 279.6,762.6 284.5,764.0 C289.4,765.4 294.4,766.7 299.3,767.4 C304.2,768.1 310.0,768.3 314.2,768.4 C318.4,768.5 321.5,768.4 324.6,767.7 C327.7,767.0 330.5,765.1 332.7,764.0 C334.9,762.9 337.1,761.5 338.0,761.0" fill="none" stroke="#ea9a68" stroke-width="1.0"/>
<path d="M188.0,636.0 C189.3,636.7 191.6,638.0 195.8,640.0 C200.0,642.0 207.2,645.5 213.1,648.2 C219.0,650.9 227.0,654.2 231.5,656.4 C236.0,658.6 236.1,659.2 240.0,661.5 C243.9,663.8 249.9,667.4 254.8,670.4 C259.8,673.4 264.8,676.1 269.7,679.3 C274.6,682.5 280.1,686.2 284.5,689.7 C288.9,693.2 292.9,696.8 296.4,700.1 C299.9,703.5 302.3,706.5 305.3,709.8 C308.3,713.1 311.2,716.6 314.2,720.1 C317.2,723.6 320.6,727.5 323.1,730.5 C325.6,733.5 327.4,735.7 329.0,737.9 C330.6,740.1 331.5,742.0 332.7,743.9 C333.9,745.8 335.4,748.1 336.0,749.0" fill="none" stroke="#ea9a68" stroke-width="1.0"/>
<path d="M84.0,636.0 C83.5,636.7 82.1,639.0 81.0,640.0 C79.9,641.0 79.1,640.0 77.5,641.8 C75.9,643.5 72.3,648.2 71.4,650.5 C70.5,652.8 71.3,653.8 72.3,655.8 C73.3,657.8 75.2,660.3 77.5,662.8 C79.8,665.3 83.4,668.3 86.3,670.6 C89.2,672.9 90.6,674.9 95.0,676.8 C99.4,678.7 106.8,680.5 112.6,682.0 C118.4,683.5 124.3,684.6 130.1,685.9 C135.9,687.2 141.8,688.5 147.6,689.9 C153.4,691.3 159.7,693.0 165.1,694.3 C170.5,695.6 175.4,696.2 180.0,697.8 C184.6,699.4 187.2,701.6 192.6,703.9 C198.0,706.2 206.1,709.2 212.3,711.8 C218.5,714.4 225.4,717.1 230.0,719.6 C234.6,722.1 235.4,724.7 240.0,726.8 C244.6,728.9 252.9,730.5 257.8,732.0 C262.8,733.5 266.0,734.8 269.7,735.8 C273.4,736.8 277.1,737.8 280.1,737.7 C283.1,737.6 285.5,736.4 287.5,735.0 C289.5,733.6 291.4,731.6 291.9,729.1 C292.4,726.6 292.1,723.9 290.4,720.2 C288.7,716.5 284.9,710.8 281.5,706.8 C278.1,702.8 274.1,699.9 269.7,696.4 C265.2,692.9 259.8,688.7 254.8,686.0 C249.9,683.3 244.1,682.4 240.0,680.1 C235.9,677.8 233.5,674.5 230.0,672.3 C226.5,670.1 224.0,669.5 218.8,667.1 C213.7,664.7 205.7,660.8 199.1,657.9 C192.5,655.0 184.5,652.1 179.4,650.0 C174.3,647.9 172.2,646.7 168.6,645.3 C165.0,643.9 161.2,643.0 158.1,641.8 C155.0,640.6 153.0,639.3 150.0,638.0 C147.0,636.7 141.7,634.7 140.0,634.0" fill="none" stroke="#ea9a68" stroke-width="1.0" stroke-dasharray="2 2.3"/>
</g>
<circle cx="170.3" cy="715.5" r="74.5" fill="none" stroke="#8c8c8c" stroke-width="0.8"/>
<line x1="170.3" y1="641.0" x2="170.3" y2="790.0" stroke="#8c8c8c" stroke-width="0.8"/>
<line x1="170.3" y1="715.5" x2="160.7" y2="650.5" stroke="#484848" stroke-width="0.55"/>
<line x1="170.3" y1="715.5" x2="107.3" y2="703" stroke="#484848" stroke-width="0.55"/>
<line x1="170.3" y1="715.5" x2="108.4" y2="703.8" stroke="#484848" stroke-width="0.55"/>
<line x1="170.3" y1="715.5" x2="98.2" y2="710" stroke="#484848" stroke-width="0.55"/>
<line x1="170.3" y1="715.5" x2="99" y2="712.5" stroke="#484848" stroke-width="0.55"/>
<line x1="170.3" y1="715.5" x2="98.2" y2="716.8" stroke="#484848" stroke-width="0.55"/>
<line x1="170.3" y1="715.5" x2="100.3" y2="727.4" stroke="#484848" stroke-width="0.55"/>
<line x1="170.3" y1="715.5" x2="102.3" y2="728.6" stroke="#484848" stroke-width="0.55"/>
<line x1="170.3" y1="715.5" x2="125" y2="724" stroke="#484848" stroke-width="0.55"/>
<line x1="170.3" y1="715.5" x2="108.4" y2="746.4" stroke="#484848" stroke-width="0.55"/>
<line x1="170.3" y1="715.5" x2="119.7" y2="756.6" stroke="#484848" stroke-width="0.55"/>
<line x1="170.3" y1="715.5" x2="122.7" y2="760.7" stroke="#484848" stroke-width="0.55"/>
<line x1="170.3" y1="715.5" x2="242.8" y2="708.5" stroke="#484848" stroke-width="0.55"/>
<line x1="170.3" y1="715.5" x2="243.8" y2="714.6" stroke="#484848" stroke-width="0.55"/>
<line x1="170.3" y1="715.5" x2="243.8" y2="721.8" stroke="#484848" stroke-width="0.55"/>
<line x1="170.3" y1="715.5" x2="243.8" y2="728" stroke="#484848" stroke-width="0.55"/>
<line x1="170.3" y1="715.5" x2="238.8" y2="743" stroke="#484848" stroke-width="0.55"/>
<line x1="170.3" y1="715.5" x2="234.9" y2="749.5" stroke="#484848" stroke-width="0.55"/>
<line x1="170.3" y1="715.5" x2="230.9" y2="756.1" stroke="#484848" stroke-width="0.55"/>
<rect x="41.5" y="639.5" width="291.5" height="261.0" fill="none" stroke="#8a8a8a" stroke-width="1"/>
<line x1="93.5" y1="900.5" x2="93.5" y2="905.5" stroke="#8a8a8a" stroke-width="1"/>
<text transform="translate(94.7 918.9) scale(1.1 1)" font-size="10" text-anchor="middle" fill="#000">−5</text>
<line x1="168" y1="900.5" x2="168" y2="905.5" stroke="#8a8a8a" stroke-width="1"/>
<text transform="translate(169.2 918.9) scale(1.1 1)" font-size="10" text-anchor="middle" fill="#000">0</text>
<line x1="242.5" y1="900.5" x2="242.5" y2="905.5" stroke="#8a8a8a" stroke-width="1"/>
<text transform="translate(243.7 918.9) scale(1.1 1)" font-size="10" text-anchor="middle" fill="#000">5</text>
<line x1="316.5" y1="900.5" x2="316.5" y2="905.5" stroke="#8a8a8a" stroke-width="1"/>
<text transform="translate(317.7 918.9) scale(1.1 1)" font-size="10" text-anchor="middle" fill="#000">10</text>
<line x1="36.5" y1="869.5" x2="41.5" y2="869.5" stroke="#8a8a8a" stroke-width="1"/>
<text transform="translate(29.8 869.5) rotate(-90) scale(1.1 1)" font-size="8.5" text-anchor="middle" fill="#000">−4</text>
<line x1="36.5" y1="831.5" x2="41.5" y2="831.5" stroke="#8a8a8a" stroke-width="1"/>
<text transform="translate(29.8 831.5) rotate(-90) scale(1.1 1)" font-size="8.5" text-anchor="middle" fill="#000">−3</text>
<line x1="36.5" y1="794.5" x2="41.5" y2="794.5" stroke="#8a8a8a" stroke-width="1"/>
<text transform="translate(29.8 794.5) rotate(-90) scale(1.1 1)" font-size="8.5" text-anchor="middle" fill="#000">−2</text>
<line x1="36.5" y1="756.5" x2="41.5" y2="756.5" stroke="#8a8a8a" stroke-width="1"/>
<text transform="translate(29.8 756.5) rotate(-90) scale(1.1 1)" font-size="8.5" text-anchor="middle" fill="#000">−1</text>
<line x1="36.5" y1="718.5" x2="41.5" y2="718.5" stroke="#8a8a8a" stroke-width="1"/>
<text transform="translate(29.8 718.5) rotate(-90) scale(1.1 1)" font-size="8.5" text-anchor="middle" fill="#000">0</text>
<line x1="36.5" y1="681.5" x2="41.5" y2="681.5" stroke="#8a8a8a" stroke-width="1"/>
<text transform="translate(29.8 681.5) rotate(-90) scale(1.1 1)" font-size="8.5" text-anchor="middle" fill="#000">1</text>
<line x1="36.5" y1="643.5" x2="41.5" y2="643.5" stroke="#8a8a8a" stroke-width="1"/>
<text transform="translate(29.8 643.5) rotate(-90) scale(1.1 1)" font-size="8.5" text-anchor="middle" fill="#000">2</text>
<text transform="translate(49.5 658.8) scale(1.1 1)" font-size="15.5" text-anchor="start" fill="#000">e)</text>
<text transform="translate(332.5 892.9) scale(1.1 1)" font-size="12.6" text-anchor="end" font-style="italic" fill="#000">Adonis pyrenaica</text>
<text transform="translate(178.3 938.5) scale(1.0 1)" font-size="16.4" text-anchor="middle" fill="#000">PC1(70.5 %)</text>
<text transform="translate(12.9 755.2) rotate(-90) scale(1.0 1)" font-size="16.4" text-anchor="middle" fill="#000">PC2 (12.52 %)</text>
<text transform="translate(148.9 649.5) scale(1.05 1)" font-size="12.48" text-anchor="start" fill="#000">04</text>
<text transform="translate(99.0 701.8) scale(1.05 1)" font-size="12.48" text-anchor="start" fill="#000">07</text>
<text transform="translate(111.8 708.2) scale(1.05 1)" font-size="12.48" text-anchor="start" fill="#000">08</text>
<text transform="translate(81.6 708.2) scale(1.05 1)" font-size="12.48" text-anchor="start" fill="#000">10</text>
<text transform="translate(83.7 718.4) scale(1.05 1)" font-size="12.48" text-anchor="start" fill="#000">01</text>
<text transform="translate(81.2 727.9) scale(1.05 1)" font-size="12.48" text-anchor="start" fill="#000">05</text>
<text transform="translate(85.5 737.6) scale(1.05 1)" font-size="12.48" text-anchor="start" fill="#000">11</text>
<text transform="translate(100.3 740.7) scale(1.05 1)" font-size="12.48" text-anchor="start" fill="#000">06</text>
<text transform="translate(125.4 732.5) scale(1.05 1)" font-size="12.48" text-anchor="start" fill="#000">09</text>
<text transform="translate(91.4 755.5) scale(1.05 1)" font-size="12.48" text-anchor="start" fill="#000">02</text>
<text transform="translate(103.4 765.7) scale(1.05 1)" font-size="12.48" text-anchor="start" fill="#000">15</text>
<text transform="translate(121.5 771.3) scale(1.05 1)" font-size="12.48" text-anchor="start" fill="#000">03</text>
<text transform="translate(243.1 704.8) scale(1.05 1)" font-size="12.48" text-anchor="start" fill="#000">18</text>
<text transform="translate(244.5 715.2) scale(1.05 1)" font-size="12.48" text-anchor="start" fill="#000">17</text>
<text transform="translate(244.5 724.9) scale(1.05 1)" font-size="12.48" text-anchor="start" fill="#000">14</text>
<text transform="translate(243.8 734.5) scale(1.05 1)" font-size="12.48" text-anchor="start" fill="#000">12</text>
<text transform="translate(238.7 747.2) scale(1.05 1)" font-size="12.48" text-anchor="start" fill="#000">16</text>
<text transform="translate(233.5 756.9) scale(1.05 1)" font-size="12.48" text-anchor="start" fill="#000">19</text>
<text transform="translate(229.5 766.9) scale(1.05 1)" font-size="12.48" text-anchor="start" fill="#000">13</text>
</svg>
</body></html>
